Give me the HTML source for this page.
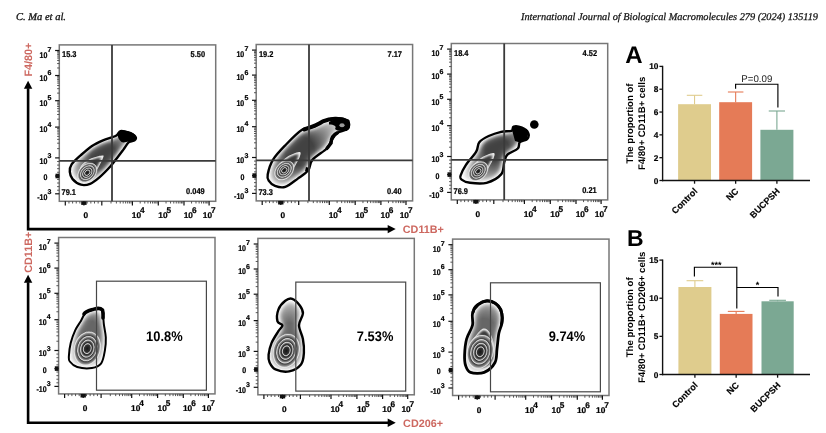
<!DOCTYPE html>
<html><head><meta charset="utf-8"><style>
html,body{margin:0;padding:0;background:#fff;}
body{width:826px;height:433px;overflow:hidden;font-family:"Liberation Sans",sans-serif;}
svg{display:block;will-change:transform;}
text{text-rendering:geometricPrecision;}
</style></head><body>
<svg width="826" height="433" viewBox="0 0 826 433">
<rect width="826" height="433" fill="#fff"/>
<text x="16.00" y="19.80" font-family='"Liberation Serif", serif' font-size="10.5" font-weight="normal" font-style="italic" text-anchor="start" fill="#111" textLength="50" lengthAdjust="spacingAndGlyphs" stroke="#111" stroke-width="0.3">C. Ma et al.</text>
<text x="521.00" y="20.10" font-family='"Liberation Serif", serif' font-size="10.3" font-weight="normal" font-style="italic" text-anchor="start" fill="#111" textLength="297" lengthAdjust="spacingAndGlyphs" stroke="#111" stroke-width="0.25">International Journal of Biological Macromolecules 279 (2024) 135119</text>
<defs><filter id="shA" x="-20%" y="-20%" width="140%" height="140%" color-interpolation-filters="sRGB"><feGaussianBlur in="SourceAlpha" stdDeviation="4.0" result="b"/><feColorMatrix in="b" type="matrix" values="0 0 0 -1 1  0 0 0 -1 1  0 0 0 -1 1  0 0 0 0 1" result="inv"/><feComponentTransfer in="inv" result="m"><feFuncR type="table" tableValues="0.26 0.36 0.55 0.75 0.9 0.98 1 1 1 1 1"/><feFuncG type="table" tableValues="0.26 0.36 0.55 0.75 0.9 0.98 1 1 1 1 1"/><feFuncB type="table" tableValues="0.26 0.36 0.55 0.75 0.9 0.98 1 1 1 1 1"/></feComponentTransfer><feComposite in="m" in2="SourceAlpha" operator="in"/></filter></defs>
<defs><filter id="shA2" x="-20%" y="-20%" width="140%" height="140%" color-interpolation-filters="sRGB"><feGaussianBlur in="SourceAlpha" stdDeviation="4.5" result="b"/><feColorMatrix in="b" type="matrix" values="0 0 0 -1 1  0 0 0 -1 1  0 0 0 -1 1  0 0 0 0 1" result="inv"/><feComponentTransfer in="inv" result="m"><feFuncR type="table" tableValues="0.4 0.48 0.62 0.78 0.9 0.98 1 1 1 1 1"/><feFuncG type="table" tableValues="0.4 0.48 0.62 0.78 0.9 0.98 1 1 1 1 1"/><feFuncB type="table" tableValues="0.4 0.48 0.62 0.78 0.9 0.98 1 1 1 1 1"/></feComponentTransfer><feComposite in="m" in2="SourceAlpha" operator="in"/></filter></defs>
<defs><filter id="shB" x="-20%" y="-20%" width="140%" height="140%" color-interpolation-filters="sRGB"><feGaussianBlur in="SourceAlpha" stdDeviation="2.2" result="b"/><feColorMatrix in="b" type="matrix" values="0 0 0 -1 1  0 0 0 -1 1  0 0 0 -1 1  0 0 0 0 1" result="inv"/><feComponentTransfer in="inv" result="m"><feFuncR type="table" tableValues="0.2 0.3 0.48 0.68 0.82 0.9 0.92 0.92 0.92 0.92 0.92"/><feFuncG type="table" tableValues="0.2 0.3 0.48 0.68 0.82 0.9 0.92 0.92 0.92 0.92 0.92"/><feFuncB type="table" tableValues="0.2 0.3 0.48 0.68 0.82 0.9 0.92 0.92 0.92 0.92 0.92"/></feComponentTransfer><feComposite in="m" in2="SourceAlpha" operator="in"/></filter></defs>
<defs><filter id="shC" x="-20%" y="-20%" width="140%" height="140%" color-interpolation-filters="sRGB"><feGaussianBlur in="SourceAlpha" stdDeviation="1.6" result="b"/><feColorMatrix in="b" type="matrix" values="0 0 0 -1 1  0 0 0 -1 1  0 0 0 -1 1  0 0 0 0 1" result="inv"/><feComponentTransfer in="inv" result="m"><feFuncR type="table" tableValues="0.2 0.35 0.58 0.8 0.93 1 1 1 1 1 1"/><feFuncG type="table" tableValues="0.2 0.35 0.58 0.8 0.93 1 1 1 1 1 1"/><feFuncB type="table" tableValues="0.2 0.35 0.58 0.8 0.93 1 1 1 1 1 1"/></feComponentTransfer><feComposite in="m" in2="SourceAlpha" operator="in"/></filter></defs>
<defs><radialGradient id="ringG"><stop offset="0" stop-color="#151515"/><stop offset="0.76" stop-color="#333"/><stop offset="0.93" stop-color="#999"/><stop offset="1" stop-color="#e8e8e8"/></radialGradient></defs>
<path d="M69.80,171.80 C69.63,169.35 69.75,167.18 71.60,164.40 C73.45,161.62 77.50,158.18 80.90,155.10 C84.30,152.02 88.32,148.37 92.00,145.90 C95.68,143.43 99.00,142.00 103.00,140.30 C107.00,138.60 113.07,137.23 116.00,135.70 C118.93,134.17 118.45,131.57 120.60,131.10 C122.75,130.63 126.43,131.98 128.90,132.90 C131.37,133.82 134.47,135.37 135.40,136.60 C136.33,137.83 135.58,139.37 134.50,140.30 C133.42,141.23 130.75,140.65 128.90,142.20 C127.05,143.75 125.25,147.13 123.40,149.60 C121.55,152.07 119.95,154.23 117.80,157.00 C115.65,159.77 113.57,162.82 110.50,166.20 C107.43,169.58 102.80,174.37 99.40,177.30 C96.00,180.23 93.18,182.57 90.10,183.80 C87.02,185.03 83.82,185.48 80.90,184.70 C77.98,183.92 74.45,181.25 72.60,179.10 C70.75,176.95 69.97,174.25 69.80,171.80 Z" fill="#000" filter="url(#shA)"/>
<defs><radialGradient id="fd1" gradientUnits="userSpaceOnUse" cx="104" cy="156" r="42"><stop offset="0" stop-color="#fff" stop-opacity="0"/><stop offset="0.3" stop-color="#fff" stop-opacity="0"/><stop offset="1" stop-color="#fff" stop-opacity="0.8"/></radialGradient></defs>
<path d="M69.80,171.80 C69.63,169.35 69.75,167.18 71.60,164.40 C73.45,161.62 77.50,158.18 80.90,155.10 C84.30,152.02 88.32,148.37 92.00,145.90 C95.68,143.43 99.00,142.00 103.00,140.30 C107.00,138.60 113.07,137.23 116.00,135.70 C118.93,134.17 118.45,131.57 120.60,131.10 C122.75,130.63 126.43,131.98 128.90,132.90 C131.37,133.82 134.47,135.37 135.40,136.60 C136.33,137.83 135.58,139.37 134.50,140.30 C133.42,141.23 130.75,140.65 128.90,142.20 C127.05,143.75 125.25,147.13 123.40,149.60 C121.55,152.07 119.95,154.23 117.80,157.00 C115.65,159.77 113.57,162.82 110.50,166.20 C107.43,169.58 102.80,174.37 99.40,177.30 C96.00,180.23 93.18,182.57 90.10,183.80 C87.02,185.03 83.82,185.48 80.90,184.70 C77.98,183.92 74.45,181.25 72.60,179.10 C70.75,176.95 69.97,174.25 69.80,171.80 Z" fill="url(#fd1)"/>
<path d="M79.00,176.00 C78.67,173.50 79.17,168.83 81.00,166.00 C82.83,163.17 86.50,160.75 90.00,159.00 C93.50,157.25 99.83,155.67 102.00,155.50 C104.17,155.33 103.83,155.58 103.00,158.00 C102.17,160.42 99.00,166.50 97.00,170.00 C95.00,173.50 93.33,177.17 91.00,179.00 C88.67,180.83 85.00,181.50 83.00,181.00 C81.00,180.50 79.33,178.50 79.00,176.00 Z" fill="#000" filter="url(#shB)"/>
<ellipse cx="87.3" cy="172.7" rx="11.00" ry="8.00" transform="rotate(-45 87.3 172.7)" fill="url(#ringG)" stroke="#f2f2f2" stroke-width="0.55"/>
<ellipse cx="87.3" cy="172.7" rx="8.14" ry="5.92" transform="rotate(-45 87.3 172.7)" fill="url(#ringG)" stroke="#f2f2f2" stroke-width="0.55"/>
<ellipse cx="87.3" cy="172.7" rx="5.50" ry="4.00" transform="rotate(-45 87.3 172.7)" fill="url(#ringG)" stroke="#f2f2f2" stroke-width="0.55"/>
<ellipse cx="87.3" cy="172.7" rx="3.08" ry="2.24" transform="rotate(-45 87.3 172.7)" fill="url(#ringG)" stroke="#f2f2f2" stroke-width="0.55"/>
<path d="M69.80,171.80 C69.63,169.35 69.75,167.18 71.60,164.40 C73.45,161.62 77.50,158.18 80.90,155.10 C84.30,152.02 88.32,148.37 92.00,145.90 C95.68,143.43 99.00,142.00 103.00,140.30 C107.00,138.60 113.07,137.23 116.00,135.70 C118.93,134.17 118.45,131.57 120.60,131.10 C122.75,130.63 126.43,131.98 128.90,132.90 C131.37,133.82 134.47,135.37 135.40,136.60 C136.33,137.83 135.58,139.37 134.50,140.30 C133.42,141.23 130.75,140.65 128.90,142.20 C127.05,143.75 125.25,147.13 123.40,149.60 C121.55,152.07 119.95,154.23 117.80,157.00 C115.65,159.77 113.57,162.82 110.50,166.20 C107.43,169.58 102.80,174.37 99.40,177.30 C96.00,180.23 93.18,182.57 90.10,183.80 C87.02,185.03 83.82,185.48 80.90,184.70 C77.98,183.92 74.45,181.25 72.60,179.10 C70.75,176.95 69.97,174.25 69.80,171.80 Z" fill="none" stroke="#000" stroke-width="2.4" stroke-linejoin="round"/>
<path d="M117.5,134 C119,131 122,130 126,130.8 C131,131.5 135,133.5 136,136.5 C136.5,139.5 133,141 129,141.5 C126,142 123.5,143 121.5,142 C119,140 117.5,137 117.5,134 Z" fill="#000"/>
<rect x="59.30" y="44.90" width="156.40" height="156.40" fill="none" stroke="#777" stroke-width="1.5"/>
<line x1="55.10" y1="50.50" x2="59.30" y2="50.50" stroke="#111" stroke-width="1.2"/>
<line x1="55.10" y1="75.50" x2="59.30" y2="75.50" stroke="#111" stroke-width="1.2"/>
<line x1="55.10" y1="100.70" x2="59.30" y2="100.70" stroke="#111" stroke-width="1.2"/>
<line x1="55.10" y1="127.10" x2="59.30" y2="127.10" stroke="#111" stroke-width="1.2"/>
<line x1="55.10" y1="157.90" x2="59.30" y2="157.90" stroke="#111" stroke-width="1.2"/>
<line x1="55.10" y1="176.00" x2="59.30" y2="176.00" stroke="#111" stroke-width="1.2"/>
<line x1="55.10" y1="193.80" x2="59.30" y2="193.80" stroke="#111" stroke-width="1.2"/>
<line x1="57.10" y1="67.97" x2="59.30" y2="67.97" stroke="#444" stroke-width="0.9"/>
<line x1="57.10" y1="63.57" x2="59.30" y2="63.57" stroke="#444" stroke-width="0.9"/>
<line x1="57.10" y1="60.45" x2="59.30" y2="60.45" stroke="#444" stroke-width="0.9"/>
<line x1="57.10" y1="58.03" x2="59.30" y2="58.03" stroke="#444" stroke-width="0.9"/>
<line x1="57.10" y1="56.05" x2="59.30" y2="56.05" stroke="#444" stroke-width="0.9"/>
<line x1="57.10" y1="54.37" x2="59.30" y2="54.37" stroke="#444" stroke-width="0.9"/>
<line x1="57.10" y1="52.92" x2="59.30" y2="52.92" stroke="#444" stroke-width="0.9"/>
<line x1="57.10" y1="51.64" x2="59.30" y2="51.64" stroke="#444" stroke-width="0.9"/>
<line x1="57.10" y1="93.11" x2="59.30" y2="93.11" stroke="#444" stroke-width="0.9"/>
<line x1="57.10" y1="88.68" x2="59.30" y2="88.68" stroke="#444" stroke-width="0.9"/>
<line x1="57.10" y1="85.53" x2="59.30" y2="85.53" stroke="#444" stroke-width="0.9"/>
<line x1="57.10" y1="83.09" x2="59.30" y2="83.09" stroke="#444" stroke-width="0.9"/>
<line x1="57.10" y1="81.09" x2="59.30" y2="81.09" stroke="#444" stroke-width="0.9"/>
<line x1="57.10" y1="79.40" x2="59.30" y2="79.40" stroke="#444" stroke-width="0.9"/>
<line x1="57.10" y1="77.94" x2="59.30" y2="77.94" stroke="#444" stroke-width="0.9"/>
<line x1="57.10" y1="76.65" x2="59.30" y2="76.65" stroke="#444" stroke-width="0.9"/>
<line x1="57.10" y1="119.15" x2="59.30" y2="119.15" stroke="#444" stroke-width="0.9"/>
<line x1="57.10" y1="114.50" x2="59.30" y2="114.50" stroke="#444" stroke-width="0.9"/>
<line x1="57.10" y1="111.21" x2="59.30" y2="111.21" stroke="#444" stroke-width="0.9"/>
<line x1="57.10" y1="108.65" x2="59.30" y2="108.65" stroke="#444" stroke-width="0.9"/>
<line x1="57.10" y1="106.56" x2="59.30" y2="106.56" stroke="#444" stroke-width="0.9"/>
<line x1="57.10" y1="104.79" x2="59.30" y2="104.79" stroke="#444" stroke-width="0.9"/>
<line x1="57.10" y1="103.26" x2="59.30" y2="103.26" stroke="#444" stroke-width="0.9"/>
<line x1="57.10" y1="101.91" x2="59.30" y2="101.91" stroke="#444" stroke-width="0.9"/>
<line x1="57.10" y1="148.63" x2="59.30" y2="148.63" stroke="#444" stroke-width="0.9"/>
<line x1="57.10" y1="143.20" x2="59.30" y2="143.20" stroke="#444" stroke-width="0.9"/>
<line x1="57.10" y1="139.36" x2="59.30" y2="139.36" stroke="#444" stroke-width="0.9"/>
<line x1="57.10" y1="136.37" x2="59.30" y2="136.37" stroke="#444" stroke-width="0.9"/>
<line x1="57.10" y1="133.93" x2="59.30" y2="133.93" stroke="#444" stroke-width="0.9"/>
<line x1="57.10" y1="131.87" x2="59.30" y2="131.87" stroke="#444" stroke-width="0.9"/>
<line x1="57.10" y1="130.08" x2="59.30" y2="130.08" stroke="#444" stroke-width="0.9"/>
<line x1="57.10" y1="128.51" x2="59.30" y2="128.51" stroke="#444" stroke-width="0.9"/>
<line x1="57.10" y1="190.21" x2="59.30" y2="190.21" stroke="#444" stroke-width="0.9"/>
<line x1="57.10" y1="186.62" x2="59.30" y2="186.62" stroke="#444" stroke-width="0.9"/>
<line x1="57.10" y1="183.03" x2="59.30" y2="183.03" stroke="#444" stroke-width="0.9"/>
<line x1="57.10" y1="179.44" x2="59.30" y2="179.44" stroke="#444" stroke-width="0.9"/>
<line x1="57.10" y1="175.85" x2="59.30" y2="175.85" stroke="#444" stroke-width="0.9"/>
<line x1="57.10" y1="172.26" x2="59.30" y2="172.26" stroke="#444" stroke-width="0.9"/>
<line x1="57.10" y1="168.67" x2="59.30" y2="168.67" stroke="#444" stroke-width="0.9"/>
<line x1="57.10" y1="165.08" x2="59.30" y2="165.08" stroke="#444" stroke-width="0.9"/>
<line x1="57.10" y1="161.49" x2="59.30" y2="161.49" stroke="#444" stroke-width="0.9"/>
<rect x="55.50" y="173.70" width="3.8" height="4.6" fill="#111"/>
<line x1="65.30" y1="201.30" x2="65.30" y2="205.50" stroke="#111" stroke-width="1.2"/>
<line x1="83.90" y1="201.30" x2="83.90" y2="205.50" stroke="#111" stroke-width="1.2"/>
<line x1="101.80" y1="201.30" x2="101.80" y2="205.50" stroke="#111" stroke-width="1.2"/>
<line x1="132.40" y1="201.30" x2="132.40" y2="205.50" stroke="#111" stroke-width="1.2"/>
<line x1="158.30" y1="201.30" x2="158.30" y2="205.50" stroke="#111" stroke-width="1.2"/>
<line x1="184.00" y1="201.30" x2="184.00" y2="205.50" stroke="#111" stroke-width="1.2"/>
<line x1="209.10" y1="201.30" x2="209.10" y2="205.50" stroke="#111" stroke-width="1.2"/>
<line x1="111.01" y1="201.30" x2="111.01" y2="203.50" stroke="#444" stroke-width="0.9"/>
<line x1="116.40" y1="201.30" x2="116.40" y2="203.50" stroke="#444" stroke-width="0.9"/>
<line x1="120.22" y1="201.30" x2="120.22" y2="203.50" stroke="#444" stroke-width="0.9"/>
<line x1="123.19" y1="201.30" x2="123.19" y2="203.50" stroke="#444" stroke-width="0.9"/>
<line x1="125.61" y1="201.30" x2="125.61" y2="203.50" stroke="#444" stroke-width="0.9"/>
<line x1="127.66" y1="201.30" x2="127.66" y2="203.50" stroke="#444" stroke-width="0.9"/>
<line x1="129.43" y1="201.30" x2="129.43" y2="203.50" stroke="#444" stroke-width="0.9"/>
<line x1="131.00" y1="201.30" x2="131.00" y2="203.50" stroke="#444" stroke-width="0.9"/>
<line x1="140.20" y1="201.30" x2="140.20" y2="203.50" stroke="#444" stroke-width="0.9"/>
<line x1="144.76" y1="201.30" x2="144.76" y2="203.50" stroke="#444" stroke-width="0.9"/>
<line x1="147.99" y1="201.30" x2="147.99" y2="203.50" stroke="#444" stroke-width="0.9"/>
<line x1="150.50" y1="201.30" x2="150.50" y2="203.50" stroke="#444" stroke-width="0.9"/>
<line x1="152.55" y1="201.30" x2="152.55" y2="203.50" stroke="#444" stroke-width="0.9"/>
<line x1="154.29" y1="201.30" x2="154.29" y2="203.50" stroke="#444" stroke-width="0.9"/>
<line x1="155.79" y1="201.30" x2="155.79" y2="203.50" stroke="#444" stroke-width="0.9"/>
<line x1="157.11" y1="201.30" x2="157.11" y2="203.50" stroke="#444" stroke-width="0.9"/>
<line x1="166.04" y1="201.30" x2="166.04" y2="203.50" stroke="#444" stroke-width="0.9"/>
<line x1="170.56" y1="201.30" x2="170.56" y2="203.50" stroke="#444" stroke-width="0.9"/>
<line x1="173.77" y1="201.30" x2="173.77" y2="203.50" stroke="#444" stroke-width="0.9"/>
<line x1="176.26" y1="201.30" x2="176.26" y2="203.50" stroke="#444" stroke-width="0.9"/>
<line x1="178.30" y1="201.30" x2="178.30" y2="203.50" stroke="#444" stroke-width="0.9"/>
<line x1="180.02" y1="201.30" x2="180.02" y2="203.50" stroke="#444" stroke-width="0.9"/>
<line x1="181.51" y1="201.30" x2="181.51" y2="203.50" stroke="#444" stroke-width="0.9"/>
<line x1="182.82" y1="201.30" x2="182.82" y2="203.50" stroke="#444" stroke-width="0.9"/>
<line x1="191.56" y1="201.30" x2="191.56" y2="203.50" stroke="#444" stroke-width="0.9"/>
<line x1="195.98" y1="201.30" x2="195.98" y2="203.50" stroke="#444" stroke-width="0.9"/>
<line x1="199.11" y1="201.30" x2="199.11" y2="203.50" stroke="#444" stroke-width="0.9"/>
<line x1="201.54" y1="201.30" x2="201.54" y2="203.50" stroke="#444" stroke-width="0.9"/>
<line x1="203.53" y1="201.30" x2="203.53" y2="203.50" stroke="#444" stroke-width="0.9"/>
<line x1="205.21" y1="201.30" x2="205.21" y2="203.50" stroke="#444" stroke-width="0.9"/>
<line x1="206.67" y1="201.30" x2="206.67" y2="203.50" stroke="#444" stroke-width="0.9"/>
<line x1="207.95" y1="201.30" x2="207.95" y2="203.50" stroke="#444" stroke-width="0.9"/>
<line x1="68.95" y1="201.30" x2="68.95" y2="203.50" stroke="#444" stroke-width="0.9"/>
<line x1="72.60" y1="201.30" x2="72.60" y2="203.50" stroke="#444" stroke-width="0.9"/>
<line x1="76.25" y1="201.30" x2="76.25" y2="203.50" stroke="#444" stroke-width="0.9"/>
<line x1="79.90" y1="201.30" x2="79.90" y2="203.50" stroke="#444" stroke-width="0.9"/>
<line x1="83.55" y1="201.30" x2="83.55" y2="203.50" stroke="#444" stroke-width="0.9"/>
<line x1="87.20" y1="201.30" x2="87.20" y2="203.50" stroke="#444" stroke-width="0.9"/>
<line x1="90.85" y1="201.30" x2="90.85" y2="203.50" stroke="#444" stroke-width="0.9"/>
<line x1="94.50" y1="201.30" x2="94.50" y2="203.50" stroke="#444" stroke-width="0.9"/>
<line x1="98.15" y1="201.30" x2="98.15" y2="203.50" stroke="#444" stroke-width="0.9"/>
<rect x="81.20" y="201.30" width="5.4" height="3.6" fill="#111"/>
<text transform="translate(47.40,57.50) scale(0.85,1)" font-family='"Liberation Sans", sans-serif' font-size="8.3" font-weight="bold" text-anchor="end" stroke="#000" stroke-width="0.22">10</text>
<text x="47.50" y="51.60" font-family='"Liberation Sans", sans-serif' font-size="7.0" font-weight="bold" font-style="normal" text-anchor="start" fill="#000" stroke="#000" stroke-width="0.2">7</text>
<text transform="translate(47.40,80.70) scale(0.85,1)" font-family='"Liberation Sans", sans-serif' font-size="8.3" font-weight="bold" text-anchor="end" stroke="#000" stroke-width="0.22">10</text>
<text x="47.50" y="75.20" font-family='"Liberation Sans", sans-serif' font-size="7.0" font-weight="bold" font-style="normal" text-anchor="start" fill="#000" stroke="#000" stroke-width="0.2">6</text>
<text transform="translate(47.40,105.90) scale(0.85,1)" font-family='"Liberation Sans", sans-serif' font-size="8.3" font-weight="bold" text-anchor="end" stroke="#000" stroke-width="0.22">10</text>
<text x="47.50" y="100.40" font-family='"Liberation Sans", sans-serif' font-size="7.0" font-weight="bold" font-style="normal" text-anchor="start" fill="#000" stroke="#000" stroke-width="0.2">5</text>
<text transform="translate(47.40,132.30) scale(0.85,1)" font-family='"Liberation Sans", sans-serif' font-size="8.3" font-weight="bold" text-anchor="end" stroke="#000" stroke-width="0.22">10</text>
<text x="47.50" y="126.80" font-family='"Liberation Sans", sans-serif' font-size="7.0" font-weight="bold" font-style="normal" text-anchor="start" fill="#000" stroke="#000" stroke-width="0.2">4</text>
<text transform="translate(47.40,163.50) scale(0.85,1)" font-family='"Liberation Sans", sans-serif' font-size="8.3" font-weight="bold" text-anchor="end" stroke="#000" stroke-width="0.22">10</text>
<text x="47.50" y="157.90" font-family='"Liberation Sans", sans-serif' font-size="7.0" font-weight="bold" font-style="normal" text-anchor="start" fill="#000" stroke="#000" stroke-width="0.2">3</text>
<text transform="translate(47.40,199.70) scale(0.85,1)" font-family='"Liberation Sans", sans-serif' font-size="8.3" font-weight="bold" text-anchor="end" stroke="#000" stroke-width="0.22">-10</text>
<text x="47.50" y="193.80" font-family='"Liberation Sans", sans-serif' font-size="7.0" font-weight="bold" font-style="normal" text-anchor="start" fill="#000" stroke="#000" stroke-width="0.2">3</text>
<text transform="translate(47.50,179.90) scale(0.85,1)" font-family='"Liberation Sans", sans-serif' font-size="8.3" font-weight="bold" text-anchor="end" stroke="#000" stroke-width="0.22">0</text>
<text x="85.80" y="218.30" font-family='"Liberation Sans", sans-serif' font-size="8.3" font-weight="bold" font-style="normal" text-anchor="middle" fill="#000" stroke="#000" stroke-width="0.22">0</text>
<text x="131.80" y="218.30" font-family='"Liberation Sans", sans-serif' font-size="8.3" font-weight="bold" font-style="normal" text-anchor="start" fill="#000" stroke="#000" stroke-width="0.22">10</text>
<text x="140.00" y="213.30" font-family='"Liberation Sans", sans-serif' font-size="8.3" font-weight="bold" font-style="normal" text-anchor="start" fill="#000" stroke="#000" stroke-width="0.2">4</text>
<text x="158.30" y="218.30" font-family='"Liberation Sans", sans-serif' font-size="8.3" font-weight="bold" font-style="normal" text-anchor="start" fill="#000" stroke="#000" stroke-width="0.22">10</text>
<text x="166.50" y="213.30" font-family='"Liberation Sans", sans-serif' font-size="8.3" font-weight="bold" font-style="normal" text-anchor="start" fill="#000" stroke="#000" stroke-width="0.2">5</text>
<text x="183.70" y="218.30" font-family='"Liberation Sans", sans-serif' font-size="8.3" font-weight="bold" font-style="normal" text-anchor="start" fill="#000" stroke="#000" stroke-width="0.22">10</text>
<text x="191.90" y="213.30" font-family='"Liberation Sans", sans-serif' font-size="8.3" font-weight="bold" font-style="normal" text-anchor="start" fill="#000" stroke="#000" stroke-width="0.2">6</text>
<text x="202.80" y="218.30" font-family='"Liberation Sans", sans-serif' font-size="8.3" font-weight="bold" font-style="normal" text-anchor="start" fill="#000" stroke="#000" stroke-width="0.22">10</text>
<text x="211.00" y="213.30" font-family='"Liberation Sans", sans-serif' font-size="8.3" font-weight="bold" font-style="normal" text-anchor="start" fill="#000" stroke="#000" stroke-width="0.2">7</text>
<line x1="112.00" y1="44.90" x2="112.00" y2="201.30" stroke="#3a3a3a" stroke-width="1.8"/>
<line x1="59.30" y1="160.95" x2="215.70" y2="160.95" stroke="#3a3a3a" stroke-width="1.8"/>
<text transform="translate(62.00,57.10) scale(0.89,1)" font-family='"Liberation Sans", sans-serif' font-size="8.4" font-weight="bold" text-anchor="start" stroke="#000" stroke-width="0.22">15.3</text>
<text transform="translate(205.10,57.10) scale(0.89,1)" font-family='"Liberation Sans", sans-serif' font-size="8.4" font-weight="bold" text-anchor="end" stroke="#000" stroke-width="0.22">5.50</text>
<text transform="translate(61.50,195.10) scale(0.89,1)" font-family='"Liberation Sans", sans-serif' font-size="8.4" font-weight="bold" text-anchor="start" stroke="#000" stroke-width="0.22">79.1</text>
<text transform="translate(204.70,194.30) scale(0.89,1)" font-family='"Liberation Sans", sans-serif' font-size="8.4" font-weight="bold" text-anchor="end" stroke="#000" stroke-width="0.22">0.049</text>
<path d="M267.70,174.40 C268.40,170.93 269.97,164.75 272.90,159.90 C275.83,155.05 280.45,150.32 285.30,145.30 C290.15,140.28 297.15,132.92 302.00,129.80 C306.85,126.68 310.93,128.00 314.40,126.60 C317.87,125.20 318.98,122.78 322.80,121.40 C326.62,120.02 333.15,118.30 337.30,118.30 C341.45,118.30 345.97,119.67 347.70,121.40 C349.43,123.13 349.43,126.78 347.70,128.70 C345.97,130.62 340.07,130.82 337.30,132.90 C334.53,134.98 332.83,138.60 331.10,141.20 C329.37,143.80 330.02,145.38 326.90,148.50 C323.78,151.62 315.52,156.27 312.40,159.90 C309.28,163.53 310.63,167.18 308.20,170.30 C305.77,173.42 301.62,175.83 297.80,178.60 C293.98,181.37 289.10,185.68 285.30,186.90 C281.50,188.12 277.77,186.93 275.00,185.90 C272.23,184.87 269.92,182.62 268.70,180.70 C267.48,178.78 267.00,177.87 267.70,174.40 Z" fill="#000" filter="url(#shA)"/>
<defs><radialGradient id="fd2" gradientUnits="userSpaceOnUse" cx="300" cy="151" r="48"><stop offset="0" stop-color="#fff" stop-opacity="0"/><stop offset="0.3" stop-color="#fff" stop-opacity="0"/><stop offset="1" stop-color="#fff" stop-opacity="0.8"/></radialGradient></defs>
<path d="M267.70,174.40 C268.40,170.93 269.97,164.75 272.90,159.90 C275.83,155.05 280.45,150.32 285.30,145.30 C290.15,140.28 297.15,132.92 302.00,129.80 C306.85,126.68 310.93,128.00 314.40,126.60 C317.87,125.20 318.98,122.78 322.80,121.40 C326.62,120.02 333.15,118.30 337.30,118.30 C341.45,118.30 345.97,119.67 347.70,121.40 C349.43,123.13 349.43,126.78 347.70,128.70 C345.97,130.62 340.07,130.82 337.30,132.90 C334.53,134.98 332.83,138.60 331.10,141.20 C329.37,143.80 330.02,145.38 326.90,148.50 C323.78,151.62 315.52,156.27 312.40,159.90 C309.28,163.53 310.63,167.18 308.20,170.30 C305.77,173.42 301.62,175.83 297.80,178.60 C293.98,181.37 289.10,185.68 285.30,186.90 C281.50,188.12 277.77,186.93 275.00,185.90 C272.23,184.87 269.92,182.62 268.70,180.70 C267.48,178.78 267.00,177.87 267.70,174.40 Z" fill="url(#fd2)"/>
<path d="M276.00,176.00 C275.67,173.67 276.17,169.17 278.00,166.00 C279.83,162.83 283.50,159.33 287.00,157.00 C290.50,154.67 296.83,152.17 299.00,152.00 C301.17,151.83 300.83,153.33 300.00,156.00 C299.17,158.67 296.00,164.50 294.00,168.00 C292.00,171.50 290.33,175.00 288.00,177.00 C285.67,179.00 282.00,180.17 280.00,180.00 C278.00,179.83 276.33,178.33 276.00,176.00 Z" fill="#000" filter="url(#shB)"/>
<ellipse cx="284.3" cy="170.3" rx="11.00" ry="8.00" transform="rotate(-45 284.3 170.3)" fill="url(#ringG)" stroke="#f2f2f2" stroke-width="0.55"/>
<ellipse cx="284.3" cy="170.3" rx="8.14" ry="5.92" transform="rotate(-45 284.3 170.3)" fill="url(#ringG)" stroke="#f2f2f2" stroke-width="0.55"/>
<ellipse cx="284.3" cy="170.3" rx="5.50" ry="4.00" transform="rotate(-45 284.3 170.3)" fill="url(#ringG)" stroke="#f2f2f2" stroke-width="0.55"/>
<ellipse cx="284.3" cy="170.3" rx="3.08" ry="2.24" transform="rotate(-45 284.3 170.3)" fill="url(#ringG)" stroke="#f2f2f2" stroke-width="0.55"/>
<path d="M267.70,174.40 C268.40,170.93 269.97,164.75 272.90,159.90 C275.83,155.05 280.45,150.32 285.30,145.30 C290.15,140.28 297.15,132.92 302.00,129.80 C306.85,126.68 310.93,128.00 314.40,126.60 C317.87,125.20 318.98,122.78 322.80,121.40 C326.62,120.02 333.15,118.30 337.30,118.30 C341.45,118.30 345.97,119.67 347.70,121.40 C349.43,123.13 349.43,126.78 347.70,128.70 C345.97,130.62 340.07,130.82 337.30,132.90 C334.53,134.98 332.83,138.60 331.10,141.20 C329.37,143.80 330.02,145.38 326.90,148.50 C323.78,151.62 315.52,156.27 312.40,159.90 C309.28,163.53 310.63,167.18 308.20,170.30 C305.77,173.42 301.62,175.83 297.80,178.60 C293.98,181.37 289.10,185.68 285.30,186.90 C281.50,188.12 277.77,186.93 275.00,185.90 C272.23,184.87 269.92,182.62 268.70,180.70 C267.48,178.78 267.00,177.87 267.70,174.40 Z" fill="none" stroke="#000" stroke-width="2.4" stroke-linejoin="round"/>
<path d="M304,129.5 C312,127 318,125 322.8,121.4 C330,118.5 340,117.5 347.7,121.4 C349,125 348,128 346,129" fill="none" stroke="#000" stroke-width="4" stroke-linecap="round"/><path d="M337.3,132.9 C333,135 331,139 331.1,143 C329,146 327,148 326.9,148.5" fill="none" stroke="#000" stroke-width="3.4" stroke-linecap="round"/><path d="M306,167 L310,168 L309,172 L305,171 Z" fill="#000"/><path d="M329,122 C334,119 342,117.5 347.5,121 C349,124 348.5,128 345,130 C341,131.5 337,131 335,129 C337,126 334,124.5 329,124.5 Z" fill="#000"/><ellipse cx="342" cy="125.3" rx="2.6" ry="2" fill="#9a9a9a"/>
<rect x="256.20" y="44.50" width="156.40" height="156.40" fill="none" stroke="#777" stroke-width="1.5"/>
<line x1="252.00" y1="50.10" x2="256.20" y2="50.10" stroke="#111" stroke-width="1.2"/>
<line x1="252.00" y1="75.10" x2="256.20" y2="75.10" stroke="#111" stroke-width="1.2"/>
<line x1="252.00" y1="100.30" x2="256.20" y2="100.30" stroke="#111" stroke-width="1.2"/>
<line x1="252.00" y1="126.70" x2="256.20" y2="126.70" stroke="#111" stroke-width="1.2"/>
<line x1="252.00" y1="157.50" x2="256.20" y2="157.50" stroke="#111" stroke-width="1.2"/>
<line x1="252.00" y1="175.60" x2="256.20" y2="175.60" stroke="#111" stroke-width="1.2"/>
<line x1="252.00" y1="193.40" x2="256.20" y2="193.40" stroke="#111" stroke-width="1.2"/>
<line x1="254.00" y1="67.57" x2="256.20" y2="67.57" stroke="#444" stroke-width="0.9"/>
<line x1="254.00" y1="63.17" x2="256.20" y2="63.17" stroke="#444" stroke-width="0.9"/>
<line x1="254.00" y1="60.05" x2="256.20" y2="60.05" stroke="#444" stroke-width="0.9"/>
<line x1="254.00" y1="57.63" x2="256.20" y2="57.63" stroke="#444" stroke-width="0.9"/>
<line x1="254.00" y1="55.65" x2="256.20" y2="55.65" stroke="#444" stroke-width="0.9"/>
<line x1="254.00" y1="53.97" x2="256.20" y2="53.97" stroke="#444" stroke-width="0.9"/>
<line x1="254.00" y1="52.52" x2="256.20" y2="52.52" stroke="#444" stroke-width="0.9"/>
<line x1="254.00" y1="51.24" x2="256.20" y2="51.24" stroke="#444" stroke-width="0.9"/>
<line x1="254.00" y1="92.71" x2="256.20" y2="92.71" stroke="#444" stroke-width="0.9"/>
<line x1="254.00" y1="88.28" x2="256.20" y2="88.28" stroke="#444" stroke-width="0.9"/>
<line x1="254.00" y1="85.13" x2="256.20" y2="85.13" stroke="#444" stroke-width="0.9"/>
<line x1="254.00" y1="82.69" x2="256.20" y2="82.69" stroke="#444" stroke-width="0.9"/>
<line x1="254.00" y1="80.69" x2="256.20" y2="80.69" stroke="#444" stroke-width="0.9"/>
<line x1="254.00" y1="79.00" x2="256.20" y2="79.00" stroke="#444" stroke-width="0.9"/>
<line x1="254.00" y1="77.54" x2="256.20" y2="77.54" stroke="#444" stroke-width="0.9"/>
<line x1="254.00" y1="76.25" x2="256.20" y2="76.25" stroke="#444" stroke-width="0.9"/>
<line x1="254.00" y1="118.75" x2="256.20" y2="118.75" stroke="#444" stroke-width="0.9"/>
<line x1="254.00" y1="114.10" x2="256.20" y2="114.10" stroke="#444" stroke-width="0.9"/>
<line x1="254.00" y1="110.81" x2="256.20" y2="110.81" stroke="#444" stroke-width="0.9"/>
<line x1="254.00" y1="108.25" x2="256.20" y2="108.25" stroke="#444" stroke-width="0.9"/>
<line x1="254.00" y1="106.16" x2="256.20" y2="106.16" stroke="#444" stroke-width="0.9"/>
<line x1="254.00" y1="104.39" x2="256.20" y2="104.39" stroke="#444" stroke-width="0.9"/>
<line x1="254.00" y1="102.86" x2="256.20" y2="102.86" stroke="#444" stroke-width="0.9"/>
<line x1="254.00" y1="101.51" x2="256.20" y2="101.51" stroke="#444" stroke-width="0.9"/>
<line x1="254.00" y1="148.23" x2="256.20" y2="148.23" stroke="#444" stroke-width="0.9"/>
<line x1="254.00" y1="142.80" x2="256.20" y2="142.80" stroke="#444" stroke-width="0.9"/>
<line x1="254.00" y1="138.96" x2="256.20" y2="138.96" stroke="#444" stroke-width="0.9"/>
<line x1="254.00" y1="135.97" x2="256.20" y2="135.97" stroke="#444" stroke-width="0.9"/>
<line x1="254.00" y1="133.53" x2="256.20" y2="133.53" stroke="#444" stroke-width="0.9"/>
<line x1="254.00" y1="131.47" x2="256.20" y2="131.47" stroke="#444" stroke-width="0.9"/>
<line x1="254.00" y1="129.68" x2="256.20" y2="129.68" stroke="#444" stroke-width="0.9"/>
<line x1="254.00" y1="128.11" x2="256.20" y2="128.11" stroke="#444" stroke-width="0.9"/>
<line x1="254.00" y1="189.81" x2="256.20" y2="189.81" stroke="#444" stroke-width="0.9"/>
<line x1="254.00" y1="186.22" x2="256.20" y2="186.22" stroke="#444" stroke-width="0.9"/>
<line x1="254.00" y1="182.63" x2="256.20" y2="182.63" stroke="#444" stroke-width="0.9"/>
<line x1="254.00" y1="179.04" x2="256.20" y2="179.04" stroke="#444" stroke-width="0.9"/>
<line x1="254.00" y1="175.45" x2="256.20" y2="175.45" stroke="#444" stroke-width="0.9"/>
<line x1="254.00" y1="171.86" x2="256.20" y2="171.86" stroke="#444" stroke-width="0.9"/>
<line x1="254.00" y1="168.27" x2="256.20" y2="168.27" stroke="#444" stroke-width="0.9"/>
<line x1="254.00" y1="164.68" x2="256.20" y2="164.68" stroke="#444" stroke-width="0.9"/>
<line x1="254.00" y1="161.09" x2="256.20" y2="161.09" stroke="#444" stroke-width="0.9"/>
<rect x="252.40" y="173.30" width="3.8" height="4.6" fill="#111"/>
<line x1="262.20" y1="200.90" x2="262.20" y2="205.10" stroke="#111" stroke-width="1.2"/>
<line x1="280.80" y1="200.90" x2="280.80" y2="205.10" stroke="#111" stroke-width="1.2"/>
<line x1="298.70" y1="200.90" x2="298.70" y2="205.10" stroke="#111" stroke-width="1.2"/>
<line x1="329.30" y1="200.90" x2="329.30" y2="205.10" stroke="#111" stroke-width="1.2"/>
<line x1="355.20" y1="200.90" x2="355.20" y2="205.10" stroke="#111" stroke-width="1.2"/>
<line x1="380.90" y1="200.90" x2="380.90" y2="205.10" stroke="#111" stroke-width="1.2"/>
<line x1="406.00" y1="200.90" x2="406.00" y2="205.10" stroke="#111" stroke-width="1.2"/>
<line x1="307.91" y1="200.90" x2="307.91" y2="203.10" stroke="#444" stroke-width="0.9"/>
<line x1="313.30" y1="200.90" x2="313.30" y2="203.10" stroke="#444" stroke-width="0.9"/>
<line x1="317.12" y1="200.90" x2="317.12" y2="203.10" stroke="#444" stroke-width="0.9"/>
<line x1="320.09" y1="200.90" x2="320.09" y2="203.10" stroke="#444" stroke-width="0.9"/>
<line x1="322.51" y1="200.90" x2="322.51" y2="203.10" stroke="#444" stroke-width="0.9"/>
<line x1="324.56" y1="200.90" x2="324.56" y2="203.10" stroke="#444" stroke-width="0.9"/>
<line x1="326.33" y1="200.90" x2="326.33" y2="203.10" stroke="#444" stroke-width="0.9"/>
<line x1="327.90" y1="200.90" x2="327.90" y2="203.10" stroke="#444" stroke-width="0.9"/>
<line x1="337.10" y1="200.90" x2="337.10" y2="203.10" stroke="#444" stroke-width="0.9"/>
<line x1="341.66" y1="200.90" x2="341.66" y2="203.10" stroke="#444" stroke-width="0.9"/>
<line x1="344.89" y1="200.90" x2="344.89" y2="203.10" stroke="#444" stroke-width="0.9"/>
<line x1="347.40" y1="200.90" x2="347.40" y2="203.10" stroke="#444" stroke-width="0.9"/>
<line x1="349.45" y1="200.90" x2="349.45" y2="203.10" stroke="#444" stroke-width="0.9"/>
<line x1="351.19" y1="200.90" x2="351.19" y2="203.10" stroke="#444" stroke-width="0.9"/>
<line x1="352.69" y1="200.90" x2="352.69" y2="203.10" stroke="#444" stroke-width="0.9"/>
<line x1="354.01" y1="200.90" x2="354.01" y2="203.10" stroke="#444" stroke-width="0.9"/>
<line x1="362.94" y1="200.90" x2="362.94" y2="203.10" stroke="#444" stroke-width="0.9"/>
<line x1="367.46" y1="200.90" x2="367.46" y2="203.10" stroke="#444" stroke-width="0.9"/>
<line x1="370.67" y1="200.90" x2="370.67" y2="203.10" stroke="#444" stroke-width="0.9"/>
<line x1="373.16" y1="200.90" x2="373.16" y2="203.10" stroke="#444" stroke-width="0.9"/>
<line x1="375.20" y1="200.90" x2="375.20" y2="203.10" stroke="#444" stroke-width="0.9"/>
<line x1="376.92" y1="200.90" x2="376.92" y2="203.10" stroke="#444" stroke-width="0.9"/>
<line x1="378.41" y1="200.90" x2="378.41" y2="203.10" stroke="#444" stroke-width="0.9"/>
<line x1="379.72" y1="200.90" x2="379.72" y2="203.10" stroke="#444" stroke-width="0.9"/>
<line x1="388.46" y1="200.90" x2="388.46" y2="203.10" stroke="#444" stroke-width="0.9"/>
<line x1="392.88" y1="200.90" x2="392.88" y2="203.10" stroke="#444" stroke-width="0.9"/>
<line x1="396.01" y1="200.90" x2="396.01" y2="203.10" stroke="#444" stroke-width="0.9"/>
<line x1="398.44" y1="200.90" x2="398.44" y2="203.10" stroke="#444" stroke-width="0.9"/>
<line x1="400.43" y1="200.90" x2="400.43" y2="203.10" stroke="#444" stroke-width="0.9"/>
<line x1="402.11" y1="200.90" x2="402.11" y2="203.10" stroke="#444" stroke-width="0.9"/>
<line x1="403.57" y1="200.90" x2="403.57" y2="203.10" stroke="#444" stroke-width="0.9"/>
<line x1="404.85" y1="200.90" x2="404.85" y2="203.10" stroke="#444" stroke-width="0.9"/>
<line x1="265.85" y1="200.90" x2="265.85" y2="203.10" stroke="#444" stroke-width="0.9"/>
<line x1="269.50" y1="200.90" x2="269.50" y2="203.10" stroke="#444" stroke-width="0.9"/>
<line x1="273.15" y1="200.90" x2="273.15" y2="203.10" stroke="#444" stroke-width="0.9"/>
<line x1="276.80" y1="200.90" x2="276.80" y2="203.10" stroke="#444" stroke-width="0.9"/>
<line x1="280.45" y1="200.90" x2="280.45" y2="203.10" stroke="#444" stroke-width="0.9"/>
<line x1="284.10" y1="200.90" x2="284.10" y2="203.10" stroke="#444" stroke-width="0.9"/>
<line x1="287.75" y1="200.90" x2="287.75" y2="203.10" stroke="#444" stroke-width="0.9"/>
<line x1="291.40" y1="200.90" x2="291.40" y2="203.10" stroke="#444" stroke-width="0.9"/>
<line x1="295.05" y1="200.90" x2="295.05" y2="203.10" stroke="#444" stroke-width="0.9"/>
<rect x="278.10" y="200.90" width="5.4" height="3.6" fill="#111"/>
<text transform="translate(244.30,57.10) scale(0.85,1)" font-family='"Liberation Sans", sans-serif' font-size="8.3" font-weight="bold" text-anchor="end" stroke="#000" stroke-width="0.22">10</text>
<text x="244.40" y="51.20" font-family='"Liberation Sans", sans-serif' font-size="7.0" font-weight="bold" font-style="normal" text-anchor="start" fill="#000" stroke="#000" stroke-width="0.2">7</text>
<text transform="translate(244.30,80.30) scale(0.85,1)" font-family='"Liberation Sans", sans-serif' font-size="8.3" font-weight="bold" text-anchor="end" stroke="#000" stroke-width="0.22">10</text>
<text x="244.40" y="74.80" font-family='"Liberation Sans", sans-serif' font-size="7.0" font-weight="bold" font-style="normal" text-anchor="start" fill="#000" stroke="#000" stroke-width="0.2">6</text>
<text transform="translate(244.30,105.50) scale(0.85,1)" font-family='"Liberation Sans", sans-serif' font-size="8.3" font-weight="bold" text-anchor="end" stroke="#000" stroke-width="0.22">10</text>
<text x="244.40" y="100.00" font-family='"Liberation Sans", sans-serif' font-size="7.0" font-weight="bold" font-style="normal" text-anchor="start" fill="#000" stroke="#000" stroke-width="0.2">5</text>
<text transform="translate(244.30,131.90) scale(0.85,1)" font-family='"Liberation Sans", sans-serif' font-size="8.3" font-weight="bold" text-anchor="end" stroke="#000" stroke-width="0.22">10</text>
<text x="244.40" y="126.40" font-family='"Liberation Sans", sans-serif' font-size="7.0" font-weight="bold" font-style="normal" text-anchor="start" fill="#000" stroke="#000" stroke-width="0.2">4</text>
<text transform="translate(244.30,163.10) scale(0.85,1)" font-family='"Liberation Sans", sans-serif' font-size="8.3" font-weight="bold" text-anchor="end" stroke="#000" stroke-width="0.22">10</text>
<text x="244.40" y="157.50" font-family='"Liberation Sans", sans-serif' font-size="7.0" font-weight="bold" font-style="normal" text-anchor="start" fill="#000" stroke="#000" stroke-width="0.2">3</text>
<text transform="translate(244.30,199.30) scale(0.85,1)" font-family='"Liberation Sans", sans-serif' font-size="8.3" font-weight="bold" text-anchor="end" stroke="#000" stroke-width="0.22">-10</text>
<text x="244.40" y="193.40" font-family='"Liberation Sans", sans-serif' font-size="7.0" font-weight="bold" font-style="normal" text-anchor="start" fill="#000" stroke="#000" stroke-width="0.2">3</text>
<text transform="translate(244.40,179.50) scale(0.85,1)" font-family='"Liberation Sans", sans-serif' font-size="8.3" font-weight="bold" text-anchor="end" stroke="#000" stroke-width="0.22">0</text>
<text x="282.70" y="217.90" font-family='"Liberation Sans", sans-serif' font-size="8.3" font-weight="bold" font-style="normal" text-anchor="middle" fill="#000" stroke="#000" stroke-width="0.22">0</text>
<text x="328.70" y="217.90" font-family='"Liberation Sans", sans-serif' font-size="8.3" font-weight="bold" font-style="normal" text-anchor="start" fill="#000" stroke="#000" stroke-width="0.22">10</text>
<text x="336.90" y="212.90" font-family='"Liberation Sans", sans-serif' font-size="8.3" font-weight="bold" font-style="normal" text-anchor="start" fill="#000" stroke="#000" stroke-width="0.2">4</text>
<text x="355.20" y="217.90" font-family='"Liberation Sans", sans-serif' font-size="8.3" font-weight="bold" font-style="normal" text-anchor="start" fill="#000" stroke="#000" stroke-width="0.22">10</text>
<text x="363.40" y="212.90" font-family='"Liberation Sans", sans-serif' font-size="8.3" font-weight="bold" font-style="normal" text-anchor="start" fill="#000" stroke="#000" stroke-width="0.2">5</text>
<text x="380.60" y="217.90" font-family='"Liberation Sans", sans-serif' font-size="8.3" font-weight="bold" font-style="normal" text-anchor="start" fill="#000" stroke="#000" stroke-width="0.22">10</text>
<text x="388.80" y="212.90" font-family='"Liberation Sans", sans-serif' font-size="8.3" font-weight="bold" font-style="normal" text-anchor="start" fill="#000" stroke="#000" stroke-width="0.2">6</text>
<text x="399.70" y="217.90" font-family='"Liberation Sans", sans-serif' font-size="8.3" font-weight="bold" font-style="normal" text-anchor="start" fill="#000" stroke="#000" stroke-width="0.22">10</text>
<text x="407.90" y="212.90" font-family='"Liberation Sans", sans-serif' font-size="8.3" font-weight="bold" font-style="normal" text-anchor="start" fill="#000" stroke="#000" stroke-width="0.2">7</text>
<line x1="309.00" y1="44.50" x2="309.00" y2="200.90" stroke="#3a3a3a" stroke-width="1.8"/>
<line x1="256.20" y1="160.40" x2="412.60" y2="160.40" stroke="#3a3a3a" stroke-width="1.8"/>
<text transform="translate(258.90,56.70) scale(0.89,1)" font-family='"Liberation Sans", sans-serif' font-size="8.4" font-weight="bold" text-anchor="start" stroke="#000" stroke-width="0.22">19.2</text>
<text transform="translate(402.00,56.70) scale(0.89,1)" font-family='"Liberation Sans", sans-serif' font-size="8.4" font-weight="bold" text-anchor="end" stroke="#000" stroke-width="0.22">7.17</text>
<text transform="translate(258.40,194.70) scale(0.89,1)" font-family='"Liberation Sans", sans-serif' font-size="8.4" font-weight="bold" text-anchor="start" stroke="#000" stroke-width="0.22">73.3</text>
<text transform="translate(401.60,193.90) scale(0.89,1)" font-family='"Liberation Sans", sans-serif' font-size="8.4" font-weight="bold" text-anchor="end" stroke="#000" stroke-width="0.22">0.40</text>
<path d="M460.60,175.50 C461.30,173.08 463.20,169.08 465.80,165.10 C468.40,161.12 473.95,155.42 476.20,151.60 C478.45,147.78 477.22,144.80 479.30,142.20 C481.38,139.60 485.07,137.73 488.70,136.00 C492.33,134.27 497.30,132.67 501.10,131.80 C504.90,130.93 509.42,131.67 511.50,130.80 C513.58,129.93 511.87,127.12 513.60,126.60 C515.33,126.08 519.47,126.65 521.90,127.70 C524.33,128.75 527.33,131.00 528.20,132.90 C529.07,134.80 528.50,137.55 527.10,139.10 C525.70,140.65 521.35,140.63 519.80,142.20 C518.25,143.77 519.87,146.42 517.80,148.50 C515.73,150.58 509.65,152.45 507.40,154.70 C505.15,156.95 505.35,158.72 504.30,162.00 C503.25,165.28 504.05,170.93 501.10,174.40 C498.15,177.87 491.78,181.40 486.60,182.80 C481.42,184.20 474.17,183.33 470.00,182.80 C465.83,182.27 463.17,180.82 461.60,179.60 C460.03,178.38 459.90,177.92 460.60,175.50 Z" fill="#000" filter="url(#shA)"/>
<defs><radialGradient id="fd3" gradientUnits="userSpaceOnUse" cx="497" cy="149" r="40"><stop offset="0" stop-color="#fff" stop-opacity="0"/><stop offset="0.3" stop-color="#fff" stop-opacity="0"/><stop offset="1" stop-color="#fff" stop-opacity="0.75"/></radialGradient></defs>
<path d="M460.60,175.50 C461.30,173.08 463.20,169.08 465.80,165.10 C468.40,161.12 473.95,155.42 476.20,151.60 C478.45,147.78 477.22,144.80 479.30,142.20 C481.38,139.60 485.07,137.73 488.70,136.00 C492.33,134.27 497.30,132.67 501.10,131.80 C504.90,130.93 509.42,131.67 511.50,130.80 C513.58,129.93 511.87,127.12 513.60,126.60 C515.33,126.08 519.47,126.65 521.90,127.70 C524.33,128.75 527.33,131.00 528.20,132.90 C529.07,134.80 528.50,137.55 527.10,139.10 C525.70,140.65 521.35,140.63 519.80,142.20 C518.25,143.77 519.87,146.42 517.80,148.50 C515.73,150.58 509.65,152.45 507.40,154.70 C505.15,156.95 505.35,158.72 504.30,162.00 C503.25,165.28 504.05,170.93 501.10,174.40 C498.15,177.87 491.78,181.40 486.60,182.80 C481.42,184.20 474.17,183.33 470.00,182.80 C465.83,182.27 463.17,180.82 461.60,179.60 C460.03,178.38 459.90,177.92 460.60,175.50 Z" fill="url(#fd3)"/>
<path d="M470.00,177.00 C469.67,174.67 470.17,170.17 472.00,167.00 C473.83,163.83 477.50,160.33 481.00,158.00 C484.50,155.67 490.83,153.17 493.00,153.00 C495.17,152.83 494.83,154.33 494.00,157.00 C493.17,159.67 490.00,165.50 488.00,169.00 C486.00,172.50 484.33,176.00 482.00,178.00 C479.67,180.00 476.00,181.17 474.00,181.00 C472.00,180.83 470.33,179.33 470.00,177.00 Z" fill="#000" filter="url(#shB)"/>
<ellipse cx="478.3" cy="171.3" rx="11.00" ry="8.00" transform="rotate(-45 478.3 171.3)" fill="url(#ringG)" stroke="#f2f2f2" stroke-width="0.55"/>
<ellipse cx="478.3" cy="171.3" rx="8.14" ry="5.92" transform="rotate(-45 478.3 171.3)" fill="url(#ringG)" stroke="#f2f2f2" stroke-width="0.55"/>
<ellipse cx="478.3" cy="171.3" rx="5.50" ry="4.00" transform="rotate(-45 478.3 171.3)" fill="url(#ringG)" stroke="#f2f2f2" stroke-width="0.55"/>
<ellipse cx="478.3" cy="171.3" rx="3.08" ry="2.24" transform="rotate(-45 478.3 171.3)" fill="url(#ringG)" stroke="#f2f2f2" stroke-width="0.55"/>
<path d="M460.60,175.50 C461.30,173.08 463.20,169.08 465.80,165.10 C468.40,161.12 473.95,155.42 476.20,151.60 C478.45,147.78 477.22,144.80 479.30,142.20 C481.38,139.60 485.07,137.73 488.70,136.00 C492.33,134.27 497.30,132.67 501.10,131.80 C504.90,130.93 509.42,131.67 511.50,130.80 C513.58,129.93 511.87,127.12 513.60,126.60 C515.33,126.08 519.47,126.65 521.90,127.70 C524.33,128.75 527.33,131.00 528.20,132.90 C529.07,134.80 528.50,137.55 527.10,139.10 C525.70,140.65 521.35,140.63 519.80,142.20 C518.25,143.77 519.87,146.42 517.80,148.50 C515.73,150.58 509.65,152.45 507.40,154.70 C505.15,156.95 505.35,158.72 504.30,162.00 C503.25,165.28 504.05,170.93 501.10,174.40 C498.15,177.87 491.78,181.40 486.60,182.80 C481.42,184.20 474.17,183.33 470.00,182.80 C465.83,182.27 463.17,180.82 461.60,179.60 C460.03,178.38 459.90,177.92 460.60,175.50 Z" fill="none" stroke="#000" stroke-width="2.4" stroke-linejoin="round"/>
<path d="M512,130 L514,126 L522,127 L528.5,132.5 L527,139.5 L520,142.5 L515,141 Z" fill="#000"/><circle cx="534.3" cy="124.5" r="4.3" fill="#000"/>
<rect x="451.30" y="43.50" width="156.40" height="156.40" fill="none" stroke="#777" stroke-width="1.5"/>
<line x1="447.10" y1="49.10" x2="451.30" y2="49.10" stroke="#111" stroke-width="1.2"/>
<line x1="447.10" y1="74.10" x2="451.30" y2="74.10" stroke="#111" stroke-width="1.2"/>
<line x1="447.10" y1="99.30" x2="451.30" y2="99.30" stroke="#111" stroke-width="1.2"/>
<line x1="447.10" y1="125.70" x2="451.30" y2="125.70" stroke="#111" stroke-width="1.2"/>
<line x1="447.10" y1="156.50" x2="451.30" y2="156.50" stroke="#111" stroke-width="1.2"/>
<line x1="447.10" y1="174.60" x2="451.30" y2="174.60" stroke="#111" stroke-width="1.2"/>
<line x1="447.10" y1="192.40" x2="451.30" y2="192.40" stroke="#111" stroke-width="1.2"/>
<line x1="449.10" y1="66.57" x2="451.30" y2="66.57" stroke="#444" stroke-width="0.9"/>
<line x1="449.10" y1="62.17" x2="451.30" y2="62.17" stroke="#444" stroke-width="0.9"/>
<line x1="449.10" y1="59.05" x2="451.30" y2="59.05" stroke="#444" stroke-width="0.9"/>
<line x1="449.10" y1="56.63" x2="451.30" y2="56.63" stroke="#444" stroke-width="0.9"/>
<line x1="449.10" y1="54.65" x2="451.30" y2="54.65" stroke="#444" stroke-width="0.9"/>
<line x1="449.10" y1="52.97" x2="451.30" y2="52.97" stroke="#444" stroke-width="0.9"/>
<line x1="449.10" y1="51.52" x2="451.30" y2="51.52" stroke="#444" stroke-width="0.9"/>
<line x1="449.10" y1="50.24" x2="451.30" y2="50.24" stroke="#444" stroke-width="0.9"/>
<line x1="449.10" y1="91.71" x2="451.30" y2="91.71" stroke="#444" stroke-width="0.9"/>
<line x1="449.10" y1="87.28" x2="451.30" y2="87.28" stroke="#444" stroke-width="0.9"/>
<line x1="449.10" y1="84.13" x2="451.30" y2="84.13" stroke="#444" stroke-width="0.9"/>
<line x1="449.10" y1="81.69" x2="451.30" y2="81.69" stroke="#444" stroke-width="0.9"/>
<line x1="449.10" y1="79.69" x2="451.30" y2="79.69" stroke="#444" stroke-width="0.9"/>
<line x1="449.10" y1="78.00" x2="451.30" y2="78.00" stroke="#444" stroke-width="0.9"/>
<line x1="449.10" y1="76.54" x2="451.30" y2="76.54" stroke="#444" stroke-width="0.9"/>
<line x1="449.10" y1="75.25" x2="451.30" y2="75.25" stroke="#444" stroke-width="0.9"/>
<line x1="449.10" y1="117.75" x2="451.30" y2="117.75" stroke="#444" stroke-width="0.9"/>
<line x1="449.10" y1="113.10" x2="451.30" y2="113.10" stroke="#444" stroke-width="0.9"/>
<line x1="449.10" y1="109.81" x2="451.30" y2="109.81" stroke="#444" stroke-width="0.9"/>
<line x1="449.10" y1="107.25" x2="451.30" y2="107.25" stroke="#444" stroke-width="0.9"/>
<line x1="449.10" y1="105.16" x2="451.30" y2="105.16" stroke="#444" stroke-width="0.9"/>
<line x1="449.10" y1="103.39" x2="451.30" y2="103.39" stroke="#444" stroke-width="0.9"/>
<line x1="449.10" y1="101.86" x2="451.30" y2="101.86" stroke="#444" stroke-width="0.9"/>
<line x1="449.10" y1="100.51" x2="451.30" y2="100.51" stroke="#444" stroke-width="0.9"/>
<line x1="449.10" y1="147.23" x2="451.30" y2="147.23" stroke="#444" stroke-width="0.9"/>
<line x1="449.10" y1="141.80" x2="451.30" y2="141.80" stroke="#444" stroke-width="0.9"/>
<line x1="449.10" y1="137.96" x2="451.30" y2="137.96" stroke="#444" stroke-width="0.9"/>
<line x1="449.10" y1="134.97" x2="451.30" y2="134.97" stroke="#444" stroke-width="0.9"/>
<line x1="449.10" y1="132.53" x2="451.30" y2="132.53" stroke="#444" stroke-width="0.9"/>
<line x1="449.10" y1="130.47" x2="451.30" y2="130.47" stroke="#444" stroke-width="0.9"/>
<line x1="449.10" y1="128.68" x2="451.30" y2="128.68" stroke="#444" stroke-width="0.9"/>
<line x1="449.10" y1="127.11" x2="451.30" y2="127.11" stroke="#444" stroke-width="0.9"/>
<line x1="449.10" y1="188.81" x2="451.30" y2="188.81" stroke="#444" stroke-width="0.9"/>
<line x1="449.10" y1="185.22" x2="451.30" y2="185.22" stroke="#444" stroke-width="0.9"/>
<line x1="449.10" y1="181.63" x2="451.30" y2="181.63" stroke="#444" stroke-width="0.9"/>
<line x1="449.10" y1="178.04" x2="451.30" y2="178.04" stroke="#444" stroke-width="0.9"/>
<line x1="449.10" y1="174.45" x2="451.30" y2="174.45" stroke="#444" stroke-width="0.9"/>
<line x1="449.10" y1="170.86" x2="451.30" y2="170.86" stroke="#444" stroke-width="0.9"/>
<line x1="449.10" y1="167.27" x2="451.30" y2="167.27" stroke="#444" stroke-width="0.9"/>
<line x1="449.10" y1="163.68" x2="451.30" y2="163.68" stroke="#444" stroke-width="0.9"/>
<line x1="449.10" y1="160.09" x2="451.30" y2="160.09" stroke="#444" stroke-width="0.9"/>
<rect x="447.50" y="172.30" width="3.8" height="4.6" fill="#111"/>
<line x1="457.30" y1="199.90" x2="457.30" y2="204.10" stroke="#111" stroke-width="1.2"/>
<line x1="475.90" y1="199.90" x2="475.90" y2="204.10" stroke="#111" stroke-width="1.2"/>
<line x1="493.80" y1="199.90" x2="493.80" y2="204.10" stroke="#111" stroke-width="1.2"/>
<line x1="524.40" y1="199.90" x2="524.40" y2="204.10" stroke="#111" stroke-width="1.2"/>
<line x1="550.30" y1="199.90" x2="550.30" y2="204.10" stroke="#111" stroke-width="1.2"/>
<line x1="576.00" y1="199.90" x2="576.00" y2="204.10" stroke="#111" stroke-width="1.2"/>
<line x1="601.10" y1="199.90" x2="601.10" y2="204.10" stroke="#111" stroke-width="1.2"/>
<line x1="503.01" y1="199.90" x2="503.01" y2="202.10" stroke="#444" stroke-width="0.9"/>
<line x1="508.40" y1="199.90" x2="508.40" y2="202.10" stroke="#444" stroke-width="0.9"/>
<line x1="512.22" y1="199.90" x2="512.22" y2="202.10" stroke="#444" stroke-width="0.9"/>
<line x1="515.19" y1="199.90" x2="515.19" y2="202.10" stroke="#444" stroke-width="0.9"/>
<line x1="517.61" y1="199.90" x2="517.61" y2="202.10" stroke="#444" stroke-width="0.9"/>
<line x1="519.66" y1="199.90" x2="519.66" y2="202.10" stroke="#444" stroke-width="0.9"/>
<line x1="521.43" y1="199.90" x2="521.43" y2="202.10" stroke="#444" stroke-width="0.9"/>
<line x1="523.00" y1="199.90" x2="523.00" y2="202.10" stroke="#444" stroke-width="0.9"/>
<line x1="532.20" y1="199.90" x2="532.20" y2="202.10" stroke="#444" stroke-width="0.9"/>
<line x1="536.76" y1="199.90" x2="536.76" y2="202.10" stroke="#444" stroke-width="0.9"/>
<line x1="539.99" y1="199.90" x2="539.99" y2="202.10" stroke="#444" stroke-width="0.9"/>
<line x1="542.50" y1="199.90" x2="542.50" y2="202.10" stroke="#444" stroke-width="0.9"/>
<line x1="544.55" y1="199.90" x2="544.55" y2="202.10" stroke="#444" stroke-width="0.9"/>
<line x1="546.29" y1="199.90" x2="546.29" y2="202.10" stroke="#444" stroke-width="0.9"/>
<line x1="547.79" y1="199.90" x2="547.79" y2="202.10" stroke="#444" stroke-width="0.9"/>
<line x1="549.11" y1="199.90" x2="549.11" y2="202.10" stroke="#444" stroke-width="0.9"/>
<line x1="558.04" y1="199.90" x2="558.04" y2="202.10" stroke="#444" stroke-width="0.9"/>
<line x1="562.56" y1="199.90" x2="562.56" y2="202.10" stroke="#444" stroke-width="0.9"/>
<line x1="565.77" y1="199.90" x2="565.77" y2="202.10" stroke="#444" stroke-width="0.9"/>
<line x1="568.26" y1="199.90" x2="568.26" y2="202.10" stroke="#444" stroke-width="0.9"/>
<line x1="570.30" y1="199.90" x2="570.30" y2="202.10" stroke="#444" stroke-width="0.9"/>
<line x1="572.02" y1="199.90" x2="572.02" y2="202.10" stroke="#444" stroke-width="0.9"/>
<line x1="573.51" y1="199.90" x2="573.51" y2="202.10" stroke="#444" stroke-width="0.9"/>
<line x1="574.82" y1="199.90" x2="574.82" y2="202.10" stroke="#444" stroke-width="0.9"/>
<line x1="583.56" y1="199.90" x2="583.56" y2="202.10" stroke="#444" stroke-width="0.9"/>
<line x1="587.98" y1="199.90" x2="587.98" y2="202.10" stroke="#444" stroke-width="0.9"/>
<line x1="591.11" y1="199.90" x2="591.11" y2="202.10" stroke="#444" stroke-width="0.9"/>
<line x1="593.54" y1="199.90" x2="593.54" y2="202.10" stroke="#444" stroke-width="0.9"/>
<line x1="595.53" y1="199.90" x2="595.53" y2="202.10" stroke="#444" stroke-width="0.9"/>
<line x1="597.21" y1="199.90" x2="597.21" y2="202.10" stroke="#444" stroke-width="0.9"/>
<line x1="598.67" y1="199.90" x2="598.67" y2="202.10" stroke="#444" stroke-width="0.9"/>
<line x1="599.95" y1="199.90" x2="599.95" y2="202.10" stroke="#444" stroke-width="0.9"/>
<line x1="460.95" y1="199.90" x2="460.95" y2="202.10" stroke="#444" stroke-width="0.9"/>
<line x1="464.60" y1="199.90" x2="464.60" y2="202.10" stroke="#444" stroke-width="0.9"/>
<line x1="468.25" y1="199.90" x2="468.25" y2="202.10" stroke="#444" stroke-width="0.9"/>
<line x1="471.90" y1="199.90" x2="471.90" y2="202.10" stroke="#444" stroke-width="0.9"/>
<line x1="475.55" y1="199.90" x2="475.55" y2="202.10" stroke="#444" stroke-width="0.9"/>
<line x1="479.20" y1="199.90" x2="479.20" y2="202.10" stroke="#444" stroke-width="0.9"/>
<line x1="482.85" y1="199.90" x2="482.85" y2="202.10" stroke="#444" stroke-width="0.9"/>
<line x1="486.50" y1="199.90" x2="486.50" y2="202.10" stroke="#444" stroke-width="0.9"/>
<line x1="490.15" y1="199.90" x2="490.15" y2="202.10" stroke="#444" stroke-width="0.9"/>
<rect x="473.20" y="199.90" width="5.4" height="3.6" fill="#111"/>
<text transform="translate(439.40,56.10) scale(0.85,1)" font-family='"Liberation Sans", sans-serif' font-size="8.3" font-weight="bold" text-anchor="end" stroke="#000" stroke-width="0.22">10</text>
<text x="439.50" y="50.20" font-family='"Liberation Sans", sans-serif' font-size="7.0" font-weight="bold" font-style="normal" text-anchor="start" fill="#000" stroke="#000" stroke-width="0.2">7</text>
<text transform="translate(439.40,79.30) scale(0.85,1)" font-family='"Liberation Sans", sans-serif' font-size="8.3" font-weight="bold" text-anchor="end" stroke="#000" stroke-width="0.22">10</text>
<text x="439.50" y="73.80" font-family='"Liberation Sans", sans-serif' font-size="7.0" font-weight="bold" font-style="normal" text-anchor="start" fill="#000" stroke="#000" stroke-width="0.2">6</text>
<text transform="translate(439.40,104.50) scale(0.85,1)" font-family='"Liberation Sans", sans-serif' font-size="8.3" font-weight="bold" text-anchor="end" stroke="#000" stroke-width="0.22">10</text>
<text x="439.50" y="99.00" font-family='"Liberation Sans", sans-serif' font-size="7.0" font-weight="bold" font-style="normal" text-anchor="start" fill="#000" stroke="#000" stroke-width="0.2">5</text>
<text transform="translate(439.40,130.90) scale(0.85,1)" font-family='"Liberation Sans", sans-serif' font-size="8.3" font-weight="bold" text-anchor="end" stroke="#000" stroke-width="0.22">10</text>
<text x="439.50" y="125.40" font-family='"Liberation Sans", sans-serif' font-size="7.0" font-weight="bold" font-style="normal" text-anchor="start" fill="#000" stroke="#000" stroke-width="0.2">4</text>
<text transform="translate(439.40,162.10) scale(0.85,1)" font-family='"Liberation Sans", sans-serif' font-size="8.3" font-weight="bold" text-anchor="end" stroke="#000" stroke-width="0.22">10</text>
<text x="439.50" y="156.50" font-family='"Liberation Sans", sans-serif' font-size="7.0" font-weight="bold" font-style="normal" text-anchor="start" fill="#000" stroke="#000" stroke-width="0.2">3</text>
<text transform="translate(439.40,198.30) scale(0.85,1)" font-family='"Liberation Sans", sans-serif' font-size="8.3" font-weight="bold" text-anchor="end" stroke="#000" stroke-width="0.22">-10</text>
<text x="439.50" y="192.40" font-family='"Liberation Sans", sans-serif' font-size="7.0" font-weight="bold" font-style="normal" text-anchor="start" fill="#000" stroke="#000" stroke-width="0.2">3</text>
<text transform="translate(439.50,178.50) scale(0.85,1)" font-family='"Liberation Sans", sans-serif' font-size="8.3" font-weight="bold" text-anchor="end" stroke="#000" stroke-width="0.22">0</text>
<text x="477.80" y="216.90" font-family='"Liberation Sans", sans-serif' font-size="8.3" font-weight="bold" font-style="normal" text-anchor="middle" fill="#000" stroke="#000" stroke-width="0.22">0</text>
<text x="523.80" y="216.90" font-family='"Liberation Sans", sans-serif' font-size="8.3" font-weight="bold" font-style="normal" text-anchor="start" fill="#000" stroke="#000" stroke-width="0.22">10</text>
<text x="532.00" y="211.90" font-family='"Liberation Sans", sans-serif' font-size="8.3" font-weight="bold" font-style="normal" text-anchor="start" fill="#000" stroke="#000" stroke-width="0.2">4</text>
<text x="550.30" y="216.90" font-family='"Liberation Sans", sans-serif' font-size="8.3" font-weight="bold" font-style="normal" text-anchor="start" fill="#000" stroke="#000" stroke-width="0.22">10</text>
<text x="558.50" y="211.90" font-family='"Liberation Sans", sans-serif' font-size="8.3" font-weight="bold" font-style="normal" text-anchor="start" fill="#000" stroke="#000" stroke-width="0.2">5</text>
<text x="575.70" y="216.90" font-family='"Liberation Sans", sans-serif' font-size="8.3" font-weight="bold" font-style="normal" text-anchor="start" fill="#000" stroke="#000" stroke-width="0.22">10</text>
<text x="583.90" y="211.90" font-family='"Liberation Sans", sans-serif' font-size="8.3" font-weight="bold" font-style="normal" text-anchor="start" fill="#000" stroke="#000" stroke-width="0.2">6</text>
<text x="594.80" y="216.90" font-family='"Liberation Sans", sans-serif' font-size="8.3" font-weight="bold" font-style="normal" text-anchor="start" fill="#000" stroke="#000" stroke-width="0.22">10</text>
<text x="603.00" y="211.90" font-family='"Liberation Sans", sans-serif' font-size="8.3" font-weight="bold" font-style="normal" text-anchor="start" fill="#000" stroke="#000" stroke-width="0.2">7</text>
<line x1="504.20" y1="43.50" x2="504.20" y2="199.90" stroke="#3a3a3a" stroke-width="1.8"/>
<line x1="451.30" y1="159.80" x2="607.70" y2="159.80" stroke="#3a3a3a" stroke-width="1.8"/>
<text transform="translate(454.00,55.70) scale(0.89,1)" font-family='"Liberation Sans", sans-serif' font-size="8.4" font-weight="bold" text-anchor="start" stroke="#000" stroke-width="0.22">18.4</text>
<text transform="translate(597.10,55.70) scale(0.89,1)" font-family='"Liberation Sans", sans-serif' font-size="8.4" font-weight="bold" text-anchor="end" stroke="#000" stroke-width="0.22">4.52</text>
<text transform="translate(453.50,193.70) scale(0.89,1)" font-family='"Liberation Sans", sans-serif' font-size="8.4" font-weight="bold" text-anchor="start" stroke="#000" stroke-width="0.22">76.9</text>
<text transform="translate(596.70,192.90) scale(0.89,1)" font-family='"Liberation Sans", sans-serif' font-size="8.4" font-weight="bold" text-anchor="end" stroke="#000" stroke-width="0.22">0.21</text>
<path d="M68.90,356.00 C69.05,352.92 69.63,347.32 70.70,343.00 C71.77,338.68 73.60,333.78 75.30,330.10 C77.00,326.42 79.20,323.83 80.90,320.90 C82.60,317.97 83.97,314.20 85.50,312.50 C87.03,310.80 88.57,311.30 90.10,310.70 C91.63,310.10 92.85,309.20 94.70,308.90 C96.55,308.60 99.82,307.83 101.20,308.90 C102.58,309.97 102.55,312.68 103.00,315.30 C103.45,317.92 103.43,320.90 103.90,324.60 C104.37,328.30 105.63,333.20 105.80,337.50 C105.97,341.80 105.67,346.10 104.90,350.40 C104.13,354.70 103.37,360.37 101.20,363.30 C99.03,366.23 95.90,367.38 91.90,368.00 C87.90,368.62 80.88,368.08 77.20,367.00 C73.52,365.92 71.18,363.33 69.80,361.50 C68.42,359.67 68.75,359.08 68.90,356.00 Z" fill="#000" filter="url(#shA2)"/>
<defs><radialGradient id="fd4" gradientUnits="userSpaceOnUse" cx="90" cy="330" r="30"><stop offset="0" stop-color="#fff" stop-opacity="0"/><stop offset="0.3" stop-color="#fff" stop-opacity="0"/><stop offset="1" stop-color="#fff" stop-opacity="0.6"/></radialGradient></defs>
<path d="M68.90,356.00 C69.05,352.92 69.63,347.32 70.70,343.00 C71.77,338.68 73.60,333.78 75.30,330.10 C77.00,326.42 79.20,323.83 80.90,320.90 C82.60,317.97 83.97,314.20 85.50,312.50 C87.03,310.80 88.57,311.30 90.10,310.70 C91.63,310.10 92.85,309.20 94.70,308.90 C96.55,308.60 99.82,307.83 101.20,308.90 C102.58,309.97 102.55,312.68 103.00,315.30 C103.45,317.92 103.43,320.90 103.90,324.60 C104.37,328.30 105.63,333.20 105.80,337.50 C105.97,341.80 105.67,346.10 104.90,350.40 C104.13,354.70 103.37,360.37 101.20,363.30 C99.03,366.23 95.90,367.38 91.90,368.00 C87.90,368.62 80.88,368.08 77.20,367.00 C73.52,365.92 71.18,363.33 69.80,361.50 C68.42,359.67 68.75,359.08 68.90,356.00 Z" fill="url(#fd4)"/>
<ellipse cx="87.3" cy="348.6" rx="13.00" ry="17.00" transform="rotate(15 87.3 348.6)" fill="url(#ringG)" stroke="#f2f2f2" stroke-width="0.55"/>
<ellipse cx="87.3" cy="348.6" rx="9.62" ry="12.58" transform="rotate(15 87.3 348.6)" fill="url(#ringG)" stroke="#f2f2f2" stroke-width="0.55"/>
<ellipse cx="87.3" cy="348.6" rx="6.76" ry="8.84" transform="rotate(15 87.3 348.6)" fill="url(#ringG)" stroke="#f2f2f2" stroke-width="0.55"/>
<ellipse cx="87.3" cy="348.6" rx="3.90" ry="5.10" transform="rotate(15 87.3 348.6)" fill="url(#ringG)" stroke="#f2f2f2" stroke-width="0.55"/>
<path d="M68.90,356.00 C69.05,352.92 69.63,347.32 70.70,343.00 C71.77,338.68 73.60,333.78 75.30,330.10 C77.00,326.42 79.20,323.83 80.90,320.90 C82.60,317.97 83.97,314.20 85.50,312.50 C87.03,310.80 88.57,311.30 90.10,310.70 C91.63,310.10 92.85,309.20 94.70,308.90 C96.55,308.60 99.82,307.83 101.20,308.90 C102.58,309.97 102.55,312.68 103.00,315.30 C103.45,317.92 103.43,320.90 103.90,324.60 C104.37,328.30 105.63,333.20 105.80,337.50 C105.97,341.80 105.67,346.10 104.90,350.40 C104.13,354.70 103.37,360.37 101.20,363.30 C99.03,366.23 95.90,367.38 91.90,368.00 C87.90,368.62 80.88,368.08 77.20,367.00 C73.52,365.92 71.18,363.33 69.80,361.50 C68.42,359.67 68.75,359.08 68.90,356.00 Z" fill="none" stroke="#000" stroke-width="2.0" stroke-linejoin="round"/>
<path d="M84,314 C86,311 90,310.5 94.7,308.9 C98,308 101,308.5 102.5,310 C103.5,313 103,316 103,318" fill="none" stroke="#000" stroke-width="3.6" stroke-linecap="round"/>
<rect x="58.60" y="237.50" width="156.40" height="156.40" fill="none" stroke="#777" stroke-width="1.5"/>
<line x1="54.40" y1="243.10" x2="58.60" y2="243.10" stroke="#111" stroke-width="1.2"/>
<line x1="54.40" y1="268.10" x2="58.60" y2="268.10" stroke="#111" stroke-width="1.2"/>
<line x1="54.40" y1="293.30" x2="58.60" y2="293.30" stroke="#111" stroke-width="1.2"/>
<line x1="54.40" y1="319.70" x2="58.60" y2="319.70" stroke="#111" stroke-width="1.2"/>
<line x1="54.40" y1="350.50" x2="58.60" y2="350.50" stroke="#111" stroke-width="1.2"/>
<line x1="54.40" y1="368.60" x2="58.60" y2="368.60" stroke="#111" stroke-width="1.2"/>
<line x1="54.40" y1="386.40" x2="58.60" y2="386.40" stroke="#111" stroke-width="1.2"/>
<line x1="56.40" y1="260.57" x2="58.60" y2="260.57" stroke="#444" stroke-width="0.9"/>
<line x1="56.40" y1="256.17" x2="58.60" y2="256.17" stroke="#444" stroke-width="0.9"/>
<line x1="56.40" y1="253.05" x2="58.60" y2="253.05" stroke="#444" stroke-width="0.9"/>
<line x1="56.40" y1="250.63" x2="58.60" y2="250.63" stroke="#444" stroke-width="0.9"/>
<line x1="56.40" y1="248.65" x2="58.60" y2="248.65" stroke="#444" stroke-width="0.9"/>
<line x1="56.40" y1="246.97" x2="58.60" y2="246.97" stroke="#444" stroke-width="0.9"/>
<line x1="56.40" y1="245.52" x2="58.60" y2="245.52" stroke="#444" stroke-width="0.9"/>
<line x1="56.40" y1="244.24" x2="58.60" y2="244.24" stroke="#444" stroke-width="0.9"/>
<line x1="56.40" y1="285.71" x2="58.60" y2="285.71" stroke="#444" stroke-width="0.9"/>
<line x1="56.40" y1="281.28" x2="58.60" y2="281.28" stroke="#444" stroke-width="0.9"/>
<line x1="56.40" y1="278.13" x2="58.60" y2="278.13" stroke="#444" stroke-width="0.9"/>
<line x1="56.40" y1="275.69" x2="58.60" y2="275.69" stroke="#444" stroke-width="0.9"/>
<line x1="56.40" y1="273.69" x2="58.60" y2="273.69" stroke="#444" stroke-width="0.9"/>
<line x1="56.40" y1="272.00" x2="58.60" y2="272.00" stroke="#444" stroke-width="0.9"/>
<line x1="56.40" y1="270.54" x2="58.60" y2="270.54" stroke="#444" stroke-width="0.9"/>
<line x1="56.40" y1="269.25" x2="58.60" y2="269.25" stroke="#444" stroke-width="0.9"/>
<line x1="56.40" y1="311.75" x2="58.60" y2="311.75" stroke="#444" stroke-width="0.9"/>
<line x1="56.40" y1="307.10" x2="58.60" y2="307.10" stroke="#444" stroke-width="0.9"/>
<line x1="56.40" y1="303.81" x2="58.60" y2="303.81" stroke="#444" stroke-width="0.9"/>
<line x1="56.40" y1="301.25" x2="58.60" y2="301.25" stroke="#444" stroke-width="0.9"/>
<line x1="56.40" y1="299.16" x2="58.60" y2="299.16" stroke="#444" stroke-width="0.9"/>
<line x1="56.40" y1="297.39" x2="58.60" y2="297.39" stroke="#444" stroke-width="0.9"/>
<line x1="56.40" y1="295.86" x2="58.60" y2="295.86" stroke="#444" stroke-width="0.9"/>
<line x1="56.40" y1="294.51" x2="58.60" y2="294.51" stroke="#444" stroke-width="0.9"/>
<line x1="56.40" y1="341.23" x2="58.60" y2="341.23" stroke="#444" stroke-width="0.9"/>
<line x1="56.40" y1="335.80" x2="58.60" y2="335.80" stroke="#444" stroke-width="0.9"/>
<line x1="56.40" y1="331.96" x2="58.60" y2="331.96" stroke="#444" stroke-width="0.9"/>
<line x1="56.40" y1="328.97" x2="58.60" y2="328.97" stroke="#444" stroke-width="0.9"/>
<line x1="56.40" y1="326.53" x2="58.60" y2="326.53" stroke="#444" stroke-width="0.9"/>
<line x1="56.40" y1="324.47" x2="58.60" y2="324.47" stroke="#444" stroke-width="0.9"/>
<line x1="56.40" y1="322.68" x2="58.60" y2="322.68" stroke="#444" stroke-width="0.9"/>
<line x1="56.40" y1="321.11" x2="58.60" y2="321.11" stroke="#444" stroke-width="0.9"/>
<line x1="56.40" y1="382.81" x2="58.60" y2="382.81" stroke="#444" stroke-width="0.9"/>
<line x1="56.40" y1="379.22" x2="58.60" y2="379.22" stroke="#444" stroke-width="0.9"/>
<line x1="56.40" y1="375.63" x2="58.60" y2="375.63" stroke="#444" stroke-width="0.9"/>
<line x1="56.40" y1="372.04" x2="58.60" y2="372.04" stroke="#444" stroke-width="0.9"/>
<line x1="56.40" y1="368.45" x2="58.60" y2="368.45" stroke="#444" stroke-width="0.9"/>
<line x1="56.40" y1="364.86" x2="58.60" y2="364.86" stroke="#444" stroke-width="0.9"/>
<line x1="56.40" y1="361.27" x2="58.60" y2="361.27" stroke="#444" stroke-width="0.9"/>
<line x1="56.40" y1="357.68" x2="58.60" y2="357.68" stroke="#444" stroke-width="0.9"/>
<line x1="56.40" y1="354.09" x2="58.60" y2="354.09" stroke="#444" stroke-width="0.9"/>
<rect x="54.80" y="366.30" width="3.8" height="4.6" fill="#111"/>
<line x1="64.60" y1="393.90" x2="64.60" y2="398.10" stroke="#111" stroke-width="1.2"/>
<line x1="83.20" y1="393.90" x2="83.20" y2="398.10" stroke="#111" stroke-width="1.2"/>
<line x1="101.10" y1="393.90" x2="101.10" y2="398.10" stroke="#111" stroke-width="1.2"/>
<line x1="131.70" y1="393.90" x2="131.70" y2="398.10" stroke="#111" stroke-width="1.2"/>
<line x1="157.60" y1="393.90" x2="157.60" y2="398.10" stroke="#111" stroke-width="1.2"/>
<line x1="183.30" y1="393.90" x2="183.30" y2="398.10" stroke="#111" stroke-width="1.2"/>
<line x1="208.40" y1="393.90" x2="208.40" y2="398.10" stroke="#111" stroke-width="1.2"/>
<line x1="110.31" y1="393.90" x2="110.31" y2="396.10" stroke="#444" stroke-width="0.9"/>
<line x1="115.70" y1="393.90" x2="115.70" y2="396.10" stroke="#444" stroke-width="0.9"/>
<line x1="119.52" y1="393.90" x2="119.52" y2="396.10" stroke="#444" stroke-width="0.9"/>
<line x1="122.49" y1="393.90" x2="122.49" y2="396.10" stroke="#444" stroke-width="0.9"/>
<line x1="124.91" y1="393.90" x2="124.91" y2="396.10" stroke="#444" stroke-width="0.9"/>
<line x1="126.96" y1="393.90" x2="126.96" y2="396.10" stroke="#444" stroke-width="0.9"/>
<line x1="128.73" y1="393.90" x2="128.73" y2="396.10" stroke="#444" stroke-width="0.9"/>
<line x1="130.30" y1="393.90" x2="130.30" y2="396.10" stroke="#444" stroke-width="0.9"/>
<line x1="139.50" y1="393.90" x2="139.50" y2="396.10" stroke="#444" stroke-width="0.9"/>
<line x1="144.06" y1="393.90" x2="144.06" y2="396.10" stroke="#444" stroke-width="0.9"/>
<line x1="147.29" y1="393.90" x2="147.29" y2="396.10" stroke="#444" stroke-width="0.9"/>
<line x1="149.80" y1="393.90" x2="149.80" y2="396.10" stroke="#444" stroke-width="0.9"/>
<line x1="151.85" y1="393.90" x2="151.85" y2="396.10" stroke="#444" stroke-width="0.9"/>
<line x1="153.59" y1="393.90" x2="153.59" y2="396.10" stroke="#444" stroke-width="0.9"/>
<line x1="155.09" y1="393.90" x2="155.09" y2="396.10" stroke="#444" stroke-width="0.9"/>
<line x1="156.41" y1="393.90" x2="156.41" y2="396.10" stroke="#444" stroke-width="0.9"/>
<line x1="165.34" y1="393.90" x2="165.34" y2="396.10" stroke="#444" stroke-width="0.9"/>
<line x1="169.86" y1="393.90" x2="169.86" y2="396.10" stroke="#444" stroke-width="0.9"/>
<line x1="173.07" y1="393.90" x2="173.07" y2="396.10" stroke="#444" stroke-width="0.9"/>
<line x1="175.56" y1="393.90" x2="175.56" y2="396.10" stroke="#444" stroke-width="0.9"/>
<line x1="177.60" y1="393.90" x2="177.60" y2="396.10" stroke="#444" stroke-width="0.9"/>
<line x1="179.32" y1="393.90" x2="179.32" y2="396.10" stroke="#444" stroke-width="0.9"/>
<line x1="180.81" y1="393.90" x2="180.81" y2="396.10" stroke="#444" stroke-width="0.9"/>
<line x1="182.12" y1="393.90" x2="182.12" y2="396.10" stroke="#444" stroke-width="0.9"/>
<line x1="190.86" y1="393.90" x2="190.86" y2="396.10" stroke="#444" stroke-width="0.9"/>
<line x1="195.28" y1="393.90" x2="195.28" y2="396.10" stroke="#444" stroke-width="0.9"/>
<line x1="198.41" y1="393.90" x2="198.41" y2="396.10" stroke="#444" stroke-width="0.9"/>
<line x1="200.84" y1="393.90" x2="200.84" y2="396.10" stroke="#444" stroke-width="0.9"/>
<line x1="202.83" y1="393.90" x2="202.83" y2="396.10" stroke="#444" stroke-width="0.9"/>
<line x1="204.51" y1="393.90" x2="204.51" y2="396.10" stroke="#444" stroke-width="0.9"/>
<line x1="205.97" y1="393.90" x2="205.97" y2="396.10" stroke="#444" stroke-width="0.9"/>
<line x1="207.25" y1="393.90" x2="207.25" y2="396.10" stroke="#444" stroke-width="0.9"/>
<line x1="68.25" y1="393.90" x2="68.25" y2="396.10" stroke="#444" stroke-width="0.9"/>
<line x1="71.90" y1="393.90" x2="71.90" y2="396.10" stroke="#444" stroke-width="0.9"/>
<line x1="75.55" y1="393.90" x2="75.55" y2="396.10" stroke="#444" stroke-width="0.9"/>
<line x1="79.20" y1="393.90" x2="79.20" y2="396.10" stroke="#444" stroke-width="0.9"/>
<line x1="82.85" y1="393.90" x2="82.85" y2="396.10" stroke="#444" stroke-width="0.9"/>
<line x1="86.50" y1="393.90" x2="86.50" y2="396.10" stroke="#444" stroke-width="0.9"/>
<line x1="90.15" y1="393.90" x2="90.15" y2="396.10" stroke="#444" stroke-width="0.9"/>
<line x1="93.80" y1="393.90" x2="93.80" y2="396.10" stroke="#444" stroke-width="0.9"/>
<line x1="97.45" y1="393.90" x2="97.45" y2="396.10" stroke="#444" stroke-width="0.9"/>
<rect x="80.50" y="393.90" width="5.4" height="3.6" fill="#111"/>
<text transform="translate(46.70,250.10) scale(0.85,1)" font-family='"Liberation Sans", sans-serif' font-size="8.3" font-weight="bold" text-anchor="end" stroke="#000" stroke-width="0.22">10</text>
<text x="46.80" y="244.20" font-family='"Liberation Sans", sans-serif' font-size="7.0" font-weight="bold" font-style="normal" text-anchor="start" fill="#000" stroke="#000" stroke-width="0.2">7</text>
<text transform="translate(46.70,273.30) scale(0.85,1)" font-family='"Liberation Sans", sans-serif' font-size="8.3" font-weight="bold" text-anchor="end" stroke="#000" stroke-width="0.22">10</text>
<text x="46.80" y="267.80" font-family='"Liberation Sans", sans-serif' font-size="7.0" font-weight="bold" font-style="normal" text-anchor="start" fill="#000" stroke="#000" stroke-width="0.2">6</text>
<text transform="translate(46.70,298.50) scale(0.85,1)" font-family='"Liberation Sans", sans-serif' font-size="8.3" font-weight="bold" text-anchor="end" stroke="#000" stroke-width="0.22">10</text>
<text x="46.80" y="293.00" font-family='"Liberation Sans", sans-serif' font-size="7.0" font-weight="bold" font-style="normal" text-anchor="start" fill="#000" stroke="#000" stroke-width="0.2">5</text>
<text transform="translate(46.70,324.90) scale(0.85,1)" font-family='"Liberation Sans", sans-serif' font-size="8.3" font-weight="bold" text-anchor="end" stroke="#000" stroke-width="0.22">10</text>
<text x="46.80" y="319.40" font-family='"Liberation Sans", sans-serif' font-size="7.0" font-weight="bold" font-style="normal" text-anchor="start" fill="#000" stroke="#000" stroke-width="0.2">4</text>
<text transform="translate(46.70,356.10) scale(0.85,1)" font-family='"Liberation Sans", sans-serif' font-size="8.3" font-weight="bold" text-anchor="end" stroke="#000" stroke-width="0.22">10</text>
<text x="46.80" y="350.50" font-family='"Liberation Sans", sans-serif' font-size="7.0" font-weight="bold" font-style="normal" text-anchor="start" fill="#000" stroke="#000" stroke-width="0.2">3</text>
<text transform="translate(46.70,392.30) scale(0.85,1)" font-family='"Liberation Sans", sans-serif' font-size="8.3" font-weight="bold" text-anchor="end" stroke="#000" stroke-width="0.22">-10</text>
<text x="46.80" y="386.40" font-family='"Liberation Sans", sans-serif' font-size="7.0" font-weight="bold" font-style="normal" text-anchor="start" fill="#000" stroke="#000" stroke-width="0.2">3</text>
<text transform="translate(46.80,372.50) scale(0.85,1)" font-family='"Liberation Sans", sans-serif' font-size="8.3" font-weight="bold" text-anchor="end" stroke="#000" stroke-width="0.22">0</text>
<text x="85.10" y="410.90" font-family='"Liberation Sans", sans-serif' font-size="8.3" font-weight="bold" font-style="normal" text-anchor="middle" fill="#000" stroke="#000" stroke-width="0.22">0</text>
<text x="131.10" y="410.90" font-family='"Liberation Sans", sans-serif' font-size="8.3" font-weight="bold" font-style="normal" text-anchor="start" fill="#000" stroke="#000" stroke-width="0.22">10</text>
<text x="139.30" y="405.90" font-family='"Liberation Sans", sans-serif' font-size="8.3" font-weight="bold" font-style="normal" text-anchor="start" fill="#000" stroke="#000" stroke-width="0.2">4</text>
<text x="157.60" y="410.90" font-family='"Liberation Sans", sans-serif' font-size="8.3" font-weight="bold" font-style="normal" text-anchor="start" fill="#000" stroke="#000" stroke-width="0.22">10</text>
<text x="165.80" y="405.90" font-family='"Liberation Sans", sans-serif' font-size="8.3" font-weight="bold" font-style="normal" text-anchor="start" fill="#000" stroke="#000" stroke-width="0.2">5</text>
<text x="183.00" y="410.90" font-family='"Liberation Sans", sans-serif' font-size="8.3" font-weight="bold" font-style="normal" text-anchor="start" fill="#000" stroke="#000" stroke-width="0.22">10</text>
<text x="191.20" y="405.90" font-family='"Liberation Sans", sans-serif' font-size="8.3" font-weight="bold" font-style="normal" text-anchor="start" fill="#000" stroke="#000" stroke-width="0.2">6</text>
<text x="202.10" y="410.90" font-family='"Liberation Sans", sans-serif' font-size="8.3" font-weight="bold" font-style="normal" text-anchor="start" fill="#000" stroke="#000" stroke-width="0.22">10</text>
<text x="210.30" y="405.90" font-family='"Liberation Sans", sans-serif' font-size="8.3" font-weight="bold" font-style="normal" text-anchor="start" fill="#000" stroke="#000" stroke-width="0.2">7</text>
<rect x="96.50" y="281.20" width="109.90" height="109.00" fill="none" stroke="#474747" stroke-width="1.2"/>
<text transform="translate(146.1,341.0) scale(0.92,1)" font-family='"Liberation Sans", sans-serif' font-size="14" font-weight="bold">10.8%</text>
<path d="M268.60,354.70 C268.93,351.43 269.97,346.82 271.60,342.90 C273.23,338.98 276.60,334.13 278.40,331.20 C280.20,328.27 282.55,326.93 282.40,325.30 C282.25,323.67 278.17,324.02 277.50,321.40 C276.83,318.78 277.10,313.03 278.40,309.60 C279.70,306.17 283.00,302.60 285.30,300.80 C287.60,299.00 289.75,297.98 292.20,298.80 C294.65,299.62 298.22,303.25 300.00,305.70 C301.78,308.15 303.07,310.23 302.90,313.50 C302.73,316.77 299.00,321.05 299.00,325.30 C299.00,329.55 302.08,334.43 302.90,339.00 C303.72,343.57 304.22,348.45 303.90,352.70 C303.58,356.95 303.45,361.38 301.00,364.50 C298.55,367.62 293.45,370.58 289.20,371.40 C284.95,372.22 278.77,370.88 275.50,369.40 C272.23,367.92 270.75,364.95 269.60,362.50 C268.45,360.05 268.27,357.97 268.60,354.70 Z" fill="#000" filter="url(#shA2)"/>
<defs><radialGradient id="fd5" gradientUnits="userSpaceOnUse" cx="289" cy="335" r="40"><stop offset="0" stop-color="#fff" stop-opacity="0"/><stop offset="0.3" stop-color="#fff" stop-opacity="0"/><stop offset="1" stop-color="#fff" stop-opacity="0.7"/></radialGradient></defs>
<path d="M268.60,354.70 C268.93,351.43 269.97,346.82 271.60,342.90 C273.23,338.98 276.60,334.13 278.40,331.20 C280.20,328.27 282.55,326.93 282.40,325.30 C282.25,323.67 278.17,324.02 277.50,321.40 C276.83,318.78 277.10,313.03 278.40,309.60 C279.70,306.17 283.00,302.60 285.30,300.80 C287.60,299.00 289.75,297.98 292.20,298.80 C294.65,299.62 298.22,303.25 300.00,305.70 C301.78,308.15 303.07,310.23 302.90,313.50 C302.73,316.77 299.00,321.05 299.00,325.30 C299.00,329.55 302.08,334.43 302.90,339.00 C303.72,343.57 304.22,348.45 303.90,352.70 C303.58,356.95 303.45,361.38 301.00,364.50 C298.55,367.62 293.45,370.58 289.20,371.40 C284.95,372.22 278.77,370.88 275.50,369.40 C272.23,367.92 270.75,364.95 269.60,362.50 C268.45,360.05 268.27,357.97 268.60,354.70 Z" fill="url(#fd5)"/>
<ellipse cx="286.3" cy="350.8" rx="13.00" ry="17.00" transform="rotate(15 286.3 350.8)" fill="url(#ringG)" stroke="#f2f2f2" stroke-width="0.55"/>
<ellipse cx="286.3" cy="350.8" rx="9.62" ry="12.58" transform="rotate(15 286.3 350.8)" fill="url(#ringG)" stroke="#f2f2f2" stroke-width="0.55"/>
<ellipse cx="286.3" cy="350.8" rx="6.76" ry="8.84" transform="rotate(15 286.3 350.8)" fill="url(#ringG)" stroke="#f2f2f2" stroke-width="0.55"/>
<ellipse cx="286.3" cy="350.8" rx="3.90" ry="5.10" transform="rotate(15 286.3 350.8)" fill="url(#ringG)" stroke="#f2f2f2" stroke-width="0.55"/>
<path d="M268.60,354.70 C268.93,351.43 269.97,346.82 271.60,342.90 C273.23,338.98 276.60,334.13 278.40,331.20 C280.20,328.27 282.55,326.93 282.40,325.30 C282.25,323.67 278.17,324.02 277.50,321.40 C276.83,318.78 277.10,313.03 278.40,309.60 C279.70,306.17 283.00,302.60 285.30,300.80 C287.60,299.00 289.75,297.98 292.20,298.80 C294.65,299.62 298.22,303.25 300.00,305.70 C301.78,308.15 303.07,310.23 302.90,313.50 C302.73,316.77 299.00,321.05 299.00,325.30 C299.00,329.55 302.08,334.43 302.90,339.00 C303.72,343.57 304.22,348.45 303.90,352.70 C303.58,356.95 303.45,361.38 301.00,364.50 C298.55,367.62 293.45,370.58 289.20,371.40 C284.95,372.22 278.77,370.88 275.50,369.40 C272.23,367.92 270.75,364.95 269.60,362.50 C268.45,360.05 268.27,357.97 268.60,354.70 Z" fill="none" stroke="#000" stroke-width="2.4" stroke-linejoin="round"/>
<rect x="257.90" y="238.40" width="156.40" height="156.40" fill="none" stroke="#777" stroke-width="1.5"/>
<line x1="253.70" y1="244.00" x2="257.90" y2="244.00" stroke="#111" stroke-width="1.2"/>
<line x1="253.70" y1="269.00" x2="257.90" y2="269.00" stroke="#111" stroke-width="1.2"/>
<line x1="253.70" y1="294.20" x2="257.90" y2="294.20" stroke="#111" stroke-width="1.2"/>
<line x1="253.70" y1="320.60" x2="257.90" y2="320.60" stroke="#111" stroke-width="1.2"/>
<line x1="253.70" y1="351.40" x2="257.90" y2="351.40" stroke="#111" stroke-width="1.2"/>
<line x1="253.70" y1="369.50" x2="257.90" y2="369.50" stroke="#111" stroke-width="1.2"/>
<line x1="253.70" y1="387.30" x2="257.90" y2="387.30" stroke="#111" stroke-width="1.2"/>
<line x1="255.70" y1="261.47" x2="257.90" y2="261.47" stroke="#444" stroke-width="0.9"/>
<line x1="255.70" y1="257.07" x2="257.90" y2="257.07" stroke="#444" stroke-width="0.9"/>
<line x1="255.70" y1="253.95" x2="257.90" y2="253.95" stroke="#444" stroke-width="0.9"/>
<line x1="255.70" y1="251.53" x2="257.90" y2="251.53" stroke="#444" stroke-width="0.9"/>
<line x1="255.70" y1="249.55" x2="257.90" y2="249.55" stroke="#444" stroke-width="0.9"/>
<line x1="255.70" y1="247.87" x2="257.90" y2="247.87" stroke="#444" stroke-width="0.9"/>
<line x1="255.70" y1="246.42" x2="257.90" y2="246.42" stroke="#444" stroke-width="0.9"/>
<line x1="255.70" y1="245.14" x2="257.90" y2="245.14" stroke="#444" stroke-width="0.9"/>
<line x1="255.70" y1="286.61" x2="257.90" y2="286.61" stroke="#444" stroke-width="0.9"/>
<line x1="255.70" y1="282.18" x2="257.90" y2="282.18" stroke="#444" stroke-width="0.9"/>
<line x1="255.70" y1="279.03" x2="257.90" y2="279.03" stroke="#444" stroke-width="0.9"/>
<line x1="255.70" y1="276.59" x2="257.90" y2="276.59" stroke="#444" stroke-width="0.9"/>
<line x1="255.70" y1="274.59" x2="257.90" y2="274.59" stroke="#444" stroke-width="0.9"/>
<line x1="255.70" y1="272.90" x2="257.90" y2="272.90" stroke="#444" stroke-width="0.9"/>
<line x1="255.70" y1="271.44" x2="257.90" y2="271.44" stroke="#444" stroke-width="0.9"/>
<line x1="255.70" y1="270.15" x2="257.90" y2="270.15" stroke="#444" stroke-width="0.9"/>
<line x1="255.70" y1="312.65" x2="257.90" y2="312.65" stroke="#444" stroke-width="0.9"/>
<line x1="255.70" y1="308.00" x2="257.90" y2="308.00" stroke="#444" stroke-width="0.9"/>
<line x1="255.70" y1="304.71" x2="257.90" y2="304.71" stroke="#444" stroke-width="0.9"/>
<line x1="255.70" y1="302.15" x2="257.90" y2="302.15" stroke="#444" stroke-width="0.9"/>
<line x1="255.70" y1="300.06" x2="257.90" y2="300.06" stroke="#444" stroke-width="0.9"/>
<line x1="255.70" y1="298.29" x2="257.90" y2="298.29" stroke="#444" stroke-width="0.9"/>
<line x1="255.70" y1="296.76" x2="257.90" y2="296.76" stroke="#444" stroke-width="0.9"/>
<line x1="255.70" y1="295.41" x2="257.90" y2="295.41" stroke="#444" stroke-width="0.9"/>
<line x1="255.70" y1="342.13" x2="257.90" y2="342.13" stroke="#444" stroke-width="0.9"/>
<line x1="255.70" y1="336.70" x2="257.90" y2="336.70" stroke="#444" stroke-width="0.9"/>
<line x1="255.70" y1="332.86" x2="257.90" y2="332.86" stroke="#444" stroke-width="0.9"/>
<line x1="255.70" y1="329.87" x2="257.90" y2="329.87" stroke="#444" stroke-width="0.9"/>
<line x1="255.70" y1="327.43" x2="257.90" y2="327.43" stroke="#444" stroke-width="0.9"/>
<line x1="255.70" y1="325.37" x2="257.90" y2="325.37" stroke="#444" stroke-width="0.9"/>
<line x1="255.70" y1="323.58" x2="257.90" y2="323.58" stroke="#444" stroke-width="0.9"/>
<line x1="255.70" y1="322.01" x2="257.90" y2="322.01" stroke="#444" stroke-width="0.9"/>
<line x1="255.70" y1="383.71" x2="257.90" y2="383.71" stroke="#444" stroke-width="0.9"/>
<line x1="255.70" y1="380.12" x2="257.90" y2="380.12" stroke="#444" stroke-width="0.9"/>
<line x1="255.70" y1="376.53" x2="257.90" y2="376.53" stroke="#444" stroke-width="0.9"/>
<line x1="255.70" y1="372.94" x2="257.90" y2="372.94" stroke="#444" stroke-width="0.9"/>
<line x1="255.70" y1="369.35" x2="257.90" y2="369.35" stroke="#444" stroke-width="0.9"/>
<line x1="255.70" y1="365.76" x2="257.90" y2="365.76" stroke="#444" stroke-width="0.9"/>
<line x1="255.70" y1="362.17" x2="257.90" y2="362.17" stroke="#444" stroke-width="0.9"/>
<line x1="255.70" y1="358.58" x2="257.90" y2="358.58" stroke="#444" stroke-width="0.9"/>
<line x1="255.70" y1="354.99" x2="257.90" y2="354.99" stroke="#444" stroke-width="0.9"/>
<rect x="254.10" y="367.20" width="3.8" height="4.6" fill="#111"/>
<line x1="263.90" y1="394.80" x2="263.90" y2="399.00" stroke="#111" stroke-width="1.2"/>
<line x1="282.50" y1="394.80" x2="282.50" y2="399.00" stroke="#111" stroke-width="1.2"/>
<line x1="300.40" y1="394.80" x2="300.40" y2="399.00" stroke="#111" stroke-width="1.2"/>
<line x1="331.00" y1="394.80" x2="331.00" y2="399.00" stroke="#111" stroke-width="1.2"/>
<line x1="356.90" y1="394.80" x2="356.90" y2="399.00" stroke="#111" stroke-width="1.2"/>
<line x1="382.60" y1="394.80" x2="382.60" y2="399.00" stroke="#111" stroke-width="1.2"/>
<line x1="407.70" y1="394.80" x2="407.70" y2="399.00" stroke="#111" stroke-width="1.2"/>
<line x1="309.61" y1="394.80" x2="309.61" y2="397.00" stroke="#444" stroke-width="0.9"/>
<line x1="315.00" y1="394.80" x2="315.00" y2="397.00" stroke="#444" stroke-width="0.9"/>
<line x1="318.82" y1="394.80" x2="318.82" y2="397.00" stroke="#444" stroke-width="0.9"/>
<line x1="321.79" y1="394.80" x2="321.79" y2="397.00" stroke="#444" stroke-width="0.9"/>
<line x1="324.21" y1="394.80" x2="324.21" y2="397.00" stroke="#444" stroke-width="0.9"/>
<line x1="326.26" y1="394.80" x2="326.26" y2="397.00" stroke="#444" stroke-width="0.9"/>
<line x1="328.03" y1="394.80" x2="328.03" y2="397.00" stroke="#444" stroke-width="0.9"/>
<line x1="329.60" y1="394.80" x2="329.60" y2="397.00" stroke="#444" stroke-width="0.9"/>
<line x1="338.80" y1="394.80" x2="338.80" y2="397.00" stroke="#444" stroke-width="0.9"/>
<line x1="343.36" y1="394.80" x2="343.36" y2="397.00" stroke="#444" stroke-width="0.9"/>
<line x1="346.59" y1="394.80" x2="346.59" y2="397.00" stroke="#444" stroke-width="0.9"/>
<line x1="349.10" y1="394.80" x2="349.10" y2="397.00" stroke="#444" stroke-width="0.9"/>
<line x1="351.15" y1="394.80" x2="351.15" y2="397.00" stroke="#444" stroke-width="0.9"/>
<line x1="352.89" y1="394.80" x2="352.89" y2="397.00" stroke="#444" stroke-width="0.9"/>
<line x1="354.39" y1="394.80" x2="354.39" y2="397.00" stroke="#444" stroke-width="0.9"/>
<line x1="355.71" y1="394.80" x2="355.71" y2="397.00" stroke="#444" stroke-width="0.9"/>
<line x1="364.64" y1="394.80" x2="364.64" y2="397.00" stroke="#444" stroke-width="0.9"/>
<line x1="369.16" y1="394.80" x2="369.16" y2="397.00" stroke="#444" stroke-width="0.9"/>
<line x1="372.37" y1="394.80" x2="372.37" y2="397.00" stroke="#444" stroke-width="0.9"/>
<line x1="374.86" y1="394.80" x2="374.86" y2="397.00" stroke="#444" stroke-width="0.9"/>
<line x1="376.90" y1="394.80" x2="376.90" y2="397.00" stroke="#444" stroke-width="0.9"/>
<line x1="378.62" y1="394.80" x2="378.62" y2="397.00" stroke="#444" stroke-width="0.9"/>
<line x1="380.11" y1="394.80" x2="380.11" y2="397.00" stroke="#444" stroke-width="0.9"/>
<line x1="381.42" y1="394.80" x2="381.42" y2="397.00" stroke="#444" stroke-width="0.9"/>
<line x1="390.16" y1="394.80" x2="390.16" y2="397.00" stroke="#444" stroke-width="0.9"/>
<line x1="394.58" y1="394.80" x2="394.58" y2="397.00" stroke="#444" stroke-width="0.9"/>
<line x1="397.71" y1="394.80" x2="397.71" y2="397.00" stroke="#444" stroke-width="0.9"/>
<line x1="400.14" y1="394.80" x2="400.14" y2="397.00" stroke="#444" stroke-width="0.9"/>
<line x1="402.13" y1="394.80" x2="402.13" y2="397.00" stroke="#444" stroke-width="0.9"/>
<line x1="403.81" y1="394.80" x2="403.81" y2="397.00" stroke="#444" stroke-width="0.9"/>
<line x1="405.27" y1="394.80" x2="405.27" y2="397.00" stroke="#444" stroke-width="0.9"/>
<line x1="406.55" y1="394.80" x2="406.55" y2="397.00" stroke="#444" stroke-width="0.9"/>
<line x1="267.55" y1="394.80" x2="267.55" y2="397.00" stroke="#444" stroke-width="0.9"/>
<line x1="271.20" y1="394.80" x2="271.20" y2="397.00" stroke="#444" stroke-width="0.9"/>
<line x1="274.85" y1="394.80" x2="274.85" y2="397.00" stroke="#444" stroke-width="0.9"/>
<line x1="278.50" y1="394.80" x2="278.50" y2="397.00" stroke="#444" stroke-width="0.9"/>
<line x1="282.15" y1="394.80" x2="282.15" y2="397.00" stroke="#444" stroke-width="0.9"/>
<line x1="285.80" y1="394.80" x2="285.80" y2="397.00" stroke="#444" stroke-width="0.9"/>
<line x1="289.45" y1="394.80" x2="289.45" y2="397.00" stroke="#444" stroke-width="0.9"/>
<line x1="293.10" y1="394.80" x2="293.10" y2="397.00" stroke="#444" stroke-width="0.9"/>
<line x1="296.75" y1="394.80" x2="296.75" y2="397.00" stroke="#444" stroke-width="0.9"/>
<rect x="279.80" y="394.80" width="5.4" height="3.6" fill="#111"/>
<text transform="translate(246.00,251.00) scale(0.85,1)" font-family='"Liberation Sans", sans-serif' font-size="8.3" font-weight="bold" text-anchor="end" stroke="#000" stroke-width="0.22">10</text>
<text x="246.10" y="245.10" font-family='"Liberation Sans", sans-serif' font-size="7.0" font-weight="bold" font-style="normal" text-anchor="start" fill="#000" stroke="#000" stroke-width="0.2">7</text>
<text transform="translate(246.00,274.20) scale(0.85,1)" font-family='"Liberation Sans", sans-serif' font-size="8.3" font-weight="bold" text-anchor="end" stroke="#000" stroke-width="0.22">10</text>
<text x="246.10" y="268.70" font-family='"Liberation Sans", sans-serif' font-size="7.0" font-weight="bold" font-style="normal" text-anchor="start" fill="#000" stroke="#000" stroke-width="0.2">6</text>
<text transform="translate(246.00,299.40) scale(0.85,1)" font-family='"Liberation Sans", sans-serif' font-size="8.3" font-weight="bold" text-anchor="end" stroke="#000" stroke-width="0.22">10</text>
<text x="246.10" y="293.90" font-family='"Liberation Sans", sans-serif' font-size="7.0" font-weight="bold" font-style="normal" text-anchor="start" fill="#000" stroke="#000" stroke-width="0.2">5</text>
<text transform="translate(246.00,325.80) scale(0.85,1)" font-family='"Liberation Sans", sans-serif' font-size="8.3" font-weight="bold" text-anchor="end" stroke="#000" stroke-width="0.22">10</text>
<text x="246.10" y="320.30" font-family='"Liberation Sans", sans-serif' font-size="7.0" font-weight="bold" font-style="normal" text-anchor="start" fill="#000" stroke="#000" stroke-width="0.2">4</text>
<text transform="translate(246.00,357.00) scale(0.85,1)" font-family='"Liberation Sans", sans-serif' font-size="8.3" font-weight="bold" text-anchor="end" stroke="#000" stroke-width="0.22">10</text>
<text x="246.10" y="351.40" font-family='"Liberation Sans", sans-serif' font-size="7.0" font-weight="bold" font-style="normal" text-anchor="start" fill="#000" stroke="#000" stroke-width="0.2">3</text>
<text transform="translate(246.00,393.20) scale(0.85,1)" font-family='"Liberation Sans", sans-serif' font-size="8.3" font-weight="bold" text-anchor="end" stroke="#000" stroke-width="0.22">-10</text>
<text x="246.10" y="387.30" font-family='"Liberation Sans", sans-serif' font-size="7.0" font-weight="bold" font-style="normal" text-anchor="start" fill="#000" stroke="#000" stroke-width="0.2">3</text>
<text transform="translate(246.10,373.40) scale(0.85,1)" font-family='"Liberation Sans", sans-serif' font-size="8.3" font-weight="bold" text-anchor="end" stroke="#000" stroke-width="0.22">0</text>
<text x="284.40" y="411.80" font-family='"Liberation Sans", sans-serif' font-size="8.3" font-weight="bold" font-style="normal" text-anchor="middle" fill="#000" stroke="#000" stroke-width="0.22">0</text>
<text x="330.40" y="411.80" font-family='"Liberation Sans", sans-serif' font-size="8.3" font-weight="bold" font-style="normal" text-anchor="start" fill="#000" stroke="#000" stroke-width="0.22">10</text>
<text x="338.60" y="406.80" font-family='"Liberation Sans", sans-serif' font-size="8.3" font-weight="bold" font-style="normal" text-anchor="start" fill="#000" stroke="#000" stroke-width="0.2">4</text>
<text x="356.90" y="411.80" font-family='"Liberation Sans", sans-serif' font-size="8.3" font-weight="bold" font-style="normal" text-anchor="start" fill="#000" stroke="#000" stroke-width="0.22">10</text>
<text x="365.10" y="406.80" font-family='"Liberation Sans", sans-serif' font-size="8.3" font-weight="bold" font-style="normal" text-anchor="start" fill="#000" stroke="#000" stroke-width="0.2">5</text>
<text x="382.30" y="411.80" font-family='"Liberation Sans", sans-serif' font-size="8.3" font-weight="bold" font-style="normal" text-anchor="start" fill="#000" stroke="#000" stroke-width="0.22">10</text>
<text x="390.50" y="406.80" font-family='"Liberation Sans", sans-serif' font-size="8.3" font-weight="bold" font-style="normal" text-anchor="start" fill="#000" stroke="#000" stroke-width="0.2">6</text>
<text x="401.40" y="411.80" font-family='"Liberation Sans", sans-serif' font-size="8.3" font-weight="bold" font-style="normal" text-anchor="start" fill="#000" stroke="#000" stroke-width="0.22">10</text>
<text x="409.60" y="406.80" font-family='"Liberation Sans", sans-serif' font-size="8.3" font-weight="bold" font-style="normal" text-anchor="start" fill="#000" stroke="#000" stroke-width="0.2">7</text>
<rect x="295.80" y="282.10" width="109.90" height="109.00" fill="none" stroke="#474747" stroke-width="1.2"/>
<text transform="translate(356.85,341.0) scale(0.92,1)" font-family='"Liberation Sans", sans-serif' font-size="14" font-weight="bold">7.53%</text>
<path d="M464.60,354.70 C464.77,350.28 465.28,343.90 466.60,339.00 C467.92,334.10 471.52,329.55 472.50,325.30 C473.48,321.05 471.53,316.93 472.50,313.50 C473.47,310.07 475.85,306.82 478.30,304.70 C480.75,302.58 484.08,300.80 487.20,300.80 C490.32,300.80 494.55,302.58 497.00,304.70 C499.45,306.82 501.08,310.40 501.90,313.50 C502.72,316.60 502.40,320.03 501.90,323.30 C501.40,326.57 499.72,328.85 498.90,333.10 C498.08,337.35 497.65,343.90 497.00,348.80 C496.35,353.70 497.13,358.57 495.00,362.50 C492.87,366.43 488.28,370.75 484.20,372.40 C480.12,374.05 473.60,373.55 470.50,372.40 C467.40,371.25 466.58,368.45 465.60,365.50 C464.62,362.55 464.43,359.12 464.60,354.70 Z" fill="#000" filter="url(#shA2)"/>
<defs><radialGradient id="fd6" gradientUnits="userSpaceOnUse" cx="484" cy="330" r="38"><stop offset="0" stop-color="#fff" stop-opacity="0"/><stop offset="0.3" stop-color="#fff" stop-opacity="0"/><stop offset="1" stop-color="#fff" stop-opacity="0.6"/></radialGradient></defs>
<path d="M464.60,354.70 C464.77,350.28 465.28,343.90 466.60,339.00 C467.92,334.10 471.52,329.55 472.50,325.30 C473.48,321.05 471.53,316.93 472.50,313.50 C473.47,310.07 475.85,306.82 478.30,304.70 C480.75,302.58 484.08,300.80 487.20,300.80 C490.32,300.80 494.55,302.58 497.00,304.70 C499.45,306.82 501.08,310.40 501.90,313.50 C502.72,316.60 502.40,320.03 501.90,323.30 C501.40,326.57 499.72,328.85 498.90,333.10 C498.08,337.35 497.65,343.90 497.00,348.80 C496.35,353.70 497.13,358.57 495.00,362.50 C492.87,366.43 488.28,370.75 484.20,372.40 C480.12,374.05 473.60,373.55 470.50,372.40 C467.40,371.25 466.58,368.45 465.60,365.50 C464.62,362.55 464.43,359.12 464.60,354.70 Z" fill="url(#fd6)"/>
<path d="M467.50,357.00 C466.75,353.08 468.17,348.50 469.50,345.00 C470.83,341.50 473.17,338.75 475.50,336.00 C477.83,333.25 481.08,329.00 483.50,328.50 C485.92,328.00 488.25,330.25 490.00,333.00 C491.75,335.75 493.25,340.67 494.00,345.00 C494.75,349.33 495.67,355.17 494.50,359.00 C493.33,362.83 490.42,366.42 487.00,368.00 C483.58,369.58 477.25,370.33 474.00,368.50 C470.75,366.67 468.25,360.92 467.50,357.00 Z" fill="#000" filter="url(#shB)"/>
<ellipse cx="480.3" cy="351.8" rx="13.00" ry="17.00" transform="rotate(15 480.3 351.8)" fill="url(#ringG)" stroke="#f2f2f2" stroke-width="0.55"/>
<ellipse cx="480.3" cy="351.8" rx="9.62" ry="12.58" transform="rotate(15 480.3 351.8)" fill="url(#ringG)" stroke="#f2f2f2" stroke-width="0.55"/>
<ellipse cx="480.3" cy="351.8" rx="6.76" ry="8.84" transform="rotate(15 480.3 351.8)" fill="url(#ringG)" stroke="#f2f2f2" stroke-width="0.55"/>
<ellipse cx="480.3" cy="351.8" rx="3.90" ry="5.10" transform="rotate(15 480.3 351.8)" fill="url(#ringG)" stroke="#f2f2f2" stroke-width="0.55"/>
<path d="M464.60,354.70 C464.77,350.28 465.28,343.90 466.60,339.00 C467.92,334.10 471.52,329.55 472.50,325.30 C473.48,321.05 471.53,316.93 472.50,313.50 C473.47,310.07 475.85,306.82 478.30,304.70 C480.75,302.58 484.08,300.80 487.20,300.80 C490.32,300.80 494.55,302.58 497.00,304.70 C499.45,306.82 501.08,310.40 501.90,313.50 C502.72,316.60 502.40,320.03 501.90,323.30 C501.40,326.57 499.72,328.85 498.90,333.10 C498.08,337.35 497.65,343.90 497.00,348.80 C496.35,353.70 497.13,358.57 495.00,362.50 C492.87,366.43 488.28,370.75 484.20,372.40 C480.12,374.05 473.60,373.55 470.50,372.40 C467.40,371.25 466.58,368.45 465.60,365.50 C464.62,362.55 464.43,359.12 464.60,354.70 Z" fill="none" stroke="#000" stroke-width="2.8" stroke-linejoin="round"/>
<path d="M473,312 C474,306 480,302 487.2,300.8 C493,301 498,304 501,310 C502.5,316 502,322 501.5,324" fill="none" stroke="#000" stroke-width="3" stroke-linecap="round"/>
<rect x="452.60" y="239.10" width="156.40" height="156.40" fill="none" stroke="#777" stroke-width="1.5"/>
<line x1="448.40" y1="244.70" x2="452.60" y2="244.70" stroke="#111" stroke-width="1.2"/>
<line x1="448.40" y1="269.70" x2="452.60" y2="269.70" stroke="#111" stroke-width="1.2"/>
<line x1="448.40" y1="294.90" x2="452.60" y2="294.90" stroke="#111" stroke-width="1.2"/>
<line x1="448.40" y1="321.30" x2="452.60" y2="321.30" stroke="#111" stroke-width="1.2"/>
<line x1="448.40" y1="352.10" x2="452.60" y2="352.10" stroke="#111" stroke-width="1.2"/>
<line x1="448.40" y1="370.20" x2="452.60" y2="370.20" stroke="#111" stroke-width="1.2"/>
<line x1="448.40" y1="388.00" x2="452.60" y2="388.00" stroke="#111" stroke-width="1.2"/>
<line x1="450.40" y1="262.17" x2="452.60" y2="262.17" stroke="#444" stroke-width="0.9"/>
<line x1="450.40" y1="257.77" x2="452.60" y2="257.77" stroke="#444" stroke-width="0.9"/>
<line x1="450.40" y1="254.65" x2="452.60" y2="254.65" stroke="#444" stroke-width="0.9"/>
<line x1="450.40" y1="252.23" x2="452.60" y2="252.23" stroke="#444" stroke-width="0.9"/>
<line x1="450.40" y1="250.25" x2="452.60" y2="250.25" stroke="#444" stroke-width="0.9"/>
<line x1="450.40" y1="248.57" x2="452.60" y2="248.57" stroke="#444" stroke-width="0.9"/>
<line x1="450.40" y1="247.12" x2="452.60" y2="247.12" stroke="#444" stroke-width="0.9"/>
<line x1="450.40" y1="245.84" x2="452.60" y2="245.84" stroke="#444" stroke-width="0.9"/>
<line x1="450.40" y1="287.31" x2="452.60" y2="287.31" stroke="#444" stroke-width="0.9"/>
<line x1="450.40" y1="282.88" x2="452.60" y2="282.88" stroke="#444" stroke-width="0.9"/>
<line x1="450.40" y1="279.73" x2="452.60" y2="279.73" stroke="#444" stroke-width="0.9"/>
<line x1="450.40" y1="277.29" x2="452.60" y2="277.29" stroke="#444" stroke-width="0.9"/>
<line x1="450.40" y1="275.29" x2="452.60" y2="275.29" stroke="#444" stroke-width="0.9"/>
<line x1="450.40" y1="273.60" x2="452.60" y2="273.60" stroke="#444" stroke-width="0.9"/>
<line x1="450.40" y1="272.14" x2="452.60" y2="272.14" stroke="#444" stroke-width="0.9"/>
<line x1="450.40" y1="270.85" x2="452.60" y2="270.85" stroke="#444" stroke-width="0.9"/>
<line x1="450.40" y1="313.35" x2="452.60" y2="313.35" stroke="#444" stroke-width="0.9"/>
<line x1="450.40" y1="308.70" x2="452.60" y2="308.70" stroke="#444" stroke-width="0.9"/>
<line x1="450.40" y1="305.41" x2="452.60" y2="305.41" stroke="#444" stroke-width="0.9"/>
<line x1="450.40" y1="302.85" x2="452.60" y2="302.85" stroke="#444" stroke-width="0.9"/>
<line x1="450.40" y1="300.76" x2="452.60" y2="300.76" stroke="#444" stroke-width="0.9"/>
<line x1="450.40" y1="298.99" x2="452.60" y2="298.99" stroke="#444" stroke-width="0.9"/>
<line x1="450.40" y1="297.46" x2="452.60" y2="297.46" stroke="#444" stroke-width="0.9"/>
<line x1="450.40" y1="296.11" x2="452.60" y2="296.11" stroke="#444" stroke-width="0.9"/>
<line x1="450.40" y1="342.83" x2="452.60" y2="342.83" stroke="#444" stroke-width="0.9"/>
<line x1="450.40" y1="337.40" x2="452.60" y2="337.40" stroke="#444" stroke-width="0.9"/>
<line x1="450.40" y1="333.56" x2="452.60" y2="333.56" stroke="#444" stroke-width="0.9"/>
<line x1="450.40" y1="330.57" x2="452.60" y2="330.57" stroke="#444" stroke-width="0.9"/>
<line x1="450.40" y1="328.13" x2="452.60" y2="328.13" stroke="#444" stroke-width="0.9"/>
<line x1="450.40" y1="326.07" x2="452.60" y2="326.07" stroke="#444" stroke-width="0.9"/>
<line x1="450.40" y1="324.28" x2="452.60" y2="324.28" stroke="#444" stroke-width="0.9"/>
<line x1="450.40" y1="322.71" x2="452.60" y2="322.71" stroke="#444" stroke-width="0.9"/>
<line x1="450.40" y1="384.41" x2="452.60" y2="384.41" stroke="#444" stroke-width="0.9"/>
<line x1="450.40" y1="380.82" x2="452.60" y2="380.82" stroke="#444" stroke-width="0.9"/>
<line x1="450.40" y1="377.23" x2="452.60" y2="377.23" stroke="#444" stroke-width="0.9"/>
<line x1="450.40" y1="373.64" x2="452.60" y2="373.64" stroke="#444" stroke-width="0.9"/>
<line x1="450.40" y1="370.05" x2="452.60" y2="370.05" stroke="#444" stroke-width="0.9"/>
<line x1="450.40" y1="366.46" x2="452.60" y2="366.46" stroke="#444" stroke-width="0.9"/>
<line x1="450.40" y1="362.87" x2="452.60" y2="362.87" stroke="#444" stroke-width="0.9"/>
<line x1="450.40" y1="359.28" x2="452.60" y2="359.28" stroke="#444" stroke-width="0.9"/>
<line x1="450.40" y1="355.69" x2="452.60" y2="355.69" stroke="#444" stroke-width="0.9"/>
<rect x="448.80" y="367.90" width="3.8" height="4.6" fill="#111"/>
<line x1="458.60" y1="395.50" x2="458.60" y2="399.70" stroke="#111" stroke-width="1.2"/>
<line x1="477.20" y1="395.50" x2="477.20" y2="399.70" stroke="#111" stroke-width="1.2"/>
<line x1="495.10" y1="395.50" x2="495.10" y2="399.70" stroke="#111" stroke-width="1.2"/>
<line x1="525.70" y1="395.50" x2="525.70" y2="399.70" stroke="#111" stroke-width="1.2"/>
<line x1="551.60" y1="395.50" x2="551.60" y2="399.70" stroke="#111" stroke-width="1.2"/>
<line x1="577.30" y1="395.50" x2="577.30" y2="399.70" stroke="#111" stroke-width="1.2"/>
<line x1="602.40" y1="395.50" x2="602.40" y2="399.70" stroke="#111" stroke-width="1.2"/>
<line x1="504.31" y1="395.50" x2="504.31" y2="397.70" stroke="#444" stroke-width="0.9"/>
<line x1="509.70" y1="395.50" x2="509.70" y2="397.70" stroke="#444" stroke-width="0.9"/>
<line x1="513.52" y1="395.50" x2="513.52" y2="397.70" stroke="#444" stroke-width="0.9"/>
<line x1="516.49" y1="395.50" x2="516.49" y2="397.70" stroke="#444" stroke-width="0.9"/>
<line x1="518.91" y1="395.50" x2="518.91" y2="397.70" stroke="#444" stroke-width="0.9"/>
<line x1="520.96" y1="395.50" x2="520.96" y2="397.70" stroke="#444" stroke-width="0.9"/>
<line x1="522.73" y1="395.50" x2="522.73" y2="397.70" stroke="#444" stroke-width="0.9"/>
<line x1="524.30" y1="395.50" x2="524.30" y2="397.70" stroke="#444" stroke-width="0.9"/>
<line x1="533.50" y1="395.50" x2="533.50" y2="397.70" stroke="#444" stroke-width="0.9"/>
<line x1="538.06" y1="395.50" x2="538.06" y2="397.70" stroke="#444" stroke-width="0.9"/>
<line x1="541.29" y1="395.50" x2="541.29" y2="397.70" stroke="#444" stroke-width="0.9"/>
<line x1="543.80" y1="395.50" x2="543.80" y2="397.70" stroke="#444" stroke-width="0.9"/>
<line x1="545.85" y1="395.50" x2="545.85" y2="397.70" stroke="#444" stroke-width="0.9"/>
<line x1="547.59" y1="395.50" x2="547.59" y2="397.70" stroke="#444" stroke-width="0.9"/>
<line x1="549.09" y1="395.50" x2="549.09" y2="397.70" stroke="#444" stroke-width="0.9"/>
<line x1="550.41" y1="395.50" x2="550.41" y2="397.70" stroke="#444" stroke-width="0.9"/>
<line x1="559.34" y1="395.50" x2="559.34" y2="397.70" stroke="#444" stroke-width="0.9"/>
<line x1="563.86" y1="395.50" x2="563.86" y2="397.70" stroke="#444" stroke-width="0.9"/>
<line x1="567.07" y1="395.50" x2="567.07" y2="397.70" stroke="#444" stroke-width="0.9"/>
<line x1="569.56" y1="395.50" x2="569.56" y2="397.70" stroke="#444" stroke-width="0.9"/>
<line x1="571.60" y1="395.50" x2="571.60" y2="397.70" stroke="#444" stroke-width="0.9"/>
<line x1="573.32" y1="395.50" x2="573.32" y2="397.70" stroke="#444" stroke-width="0.9"/>
<line x1="574.81" y1="395.50" x2="574.81" y2="397.70" stroke="#444" stroke-width="0.9"/>
<line x1="576.12" y1="395.50" x2="576.12" y2="397.70" stroke="#444" stroke-width="0.9"/>
<line x1="584.86" y1="395.50" x2="584.86" y2="397.70" stroke="#444" stroke-width="0.9"/>
<line x1="589.28" y1="395.50" x2="589.28" y2="397.70" stroke="#444" stroke-width="0.9"/>
<line x1="592.41" y1="395.50" x2="592.41" y2="397.70" stroke="#444" stroke-width="0.9"/>
<line x1="594.84" y1="395.50" x2="594.84" y2="397.70" stroke="#444" stroke-width="0.9"/>
<line x1="596.83" y1="395.50" x2="596.83" y2="397.70" stroke="#444" stroke-width="0.9"/>
<line x1="598.51" y1="395.50" x2="598.51" y2="397.70" stroke="#444" stroke-width="0.9"/>
<line x1="599.97" y1="395.50" x2="599.97" y2="397.70" stroke="#444" stroke-width="0.9"/>
<line x1="601.25" y1="395.50" x2="601.25" y2="397.70" stroke="#444" stroke-width="0.9"/>
<line x1="462.25" y1="395.50" x2="462.25" y2="397.70" stroke="#444" stroke-width="0.9"/>
<line x1="465.90" y1="395.50" x2="465.90" y2="397.70" stroke="#444" stroke-width="0.9"/>
<line x1="469.55" y1="395.50" x2="469.55" y2="397.70" stroke="#444" stroke-width="0.9"/>
<line x1="473.20" y1="395.50" x2="473.20" y2="397.70" stroke="#444" stroke-width="0.9"/>
<line x1="476.85" y1="395.50" x2="476.85" y2="397.70" stroke="#444" stroke-width="0.9"/>
<line x1="480.50" y1="395.50" x2="480.50" y2="397.70" stroke="#444" stroke-width="0.9"/>
<line x1="484.15" y1="395.50" x2="484.15" y2="397.70" stroke="#444" stroke-width="0.9"/>
<line x1="487.80" y1="395.50" x2="487.80" y2="397.70" stroke="#444" stroke-width="0.9"/>
<line x1="491.45" y1="395.50" x2="491.45" y2="397.70" stroke="#444" stroke-width="0.9"/>
<rect x="474.50" y="395.50" width="5.4" height="3.6" fill="#111"/>
<text transform="translate(440.70,251.70) scale(0.85,1)" font-family='"Liberation Sans", sans-serif' font-size="8.3" font-weight="bold" text-anchor="end" stroke="#000" stroke-width="0.22">10</text>
<text x="440.80" y="245.80" font-family='"Liberation Sans", sans-serif' font-size="7.0" font-weight="bold" font-style="normal" text-anchor="start" fill="#000" stroke="#000" stroke-width="0.2">7</text>
<text transform="translate(440.70,274.90) scale(0.85,1)" font-family='"Liberation Sans", sans-serif' font-size="8.3" font-weight="bold" text-anchor="end" stroke="#000" stroke-width="0.22">10</text>
<text x="440.80" y="269.40" font-family='"Liberation Sans", sans-serif' font-size="7.0" font-weight="bold" font-style="normal" text-anchor="start" fill="#000" stroke="#000" stroke-width="0.2">6</text>
<text transform="translate(440.70,300.10) scale(0.85,1)" font-family='"Liberation Sans", sans-serif' font-size="8.3" font-weight="bold" text-anchor="end" stroke="#000" stroke-width="0.22">10</text>
<text x="440.80" y="294.60" font-family='"Liberation Sans", sans-serif' font-size="7.0" font-weight="bold" font-style="normal" text-anchor="start" fill="#000" stroke="#000" stroke-width="0.2">5</text>
<text transform="translate(440.70,326.50) scale(0.85,1)" font-family='"Liberation Sans", sans-serif' font-size="8.3" font-weight="bold" text-anchor="end" stroke="#000" stroke-width="0.22">10</text>
<text x="440.80" y="321.00" font-family='"Liberation Sans", sans-serif' font-size="7.0" font-weight="bold" font-style="normal" text-anchor="start" fill="#000" stroke="#000" stroke-width="0.2">4</text>
<text transform="translate(440.70,357.70) scale(0.85,1)" font-family='"Liberation Sans", sans-serif' font-size="8.3" font-weight="bold" text-anchor="end" stroke="#000" stroke-width="0.22">10</text>
<text x="440.80" y="352.10" font-family='"Liberation Sans", sans-serif' font-size="7.0" font-weight="bold" font-style="normal" text-anchor="start" fill="#000" stroke="#000" stroke-width="0.2">3</text>
<text transform="translate(440.70,393.90) scale(0.85,1)" font-family='"Liberation Sans", sans-serif' font-size="8.3" font-weight="bold" text-anchor="end" stroke="#000" stroke-width="0.22">-10</text>
<text x="440.80" y="388.00" font-family='"Liberation Sans", sans-serif' font-size="7.0" font-weight="bold" font-style="normal" text-anchor="start" fill="#000" stroke="#000" stroke-width="0.2">3</text>
<text transform="translate(440.80,374.10) scale(0.85,1)" font-family='"Liberation Sans", sans-serif' font-size="8.3" font-weight="bold" text-anchor="end" stroke="#000" stroke-width="0.22">0</text>
<text x="479.10" y="412.50" font-family='"Liberation Sans", sans-serif' font-size="8.3" font-weight="bold" font-style="normal" text-anchor="middle" fill="#000" stroke="#000" stroke-width="0.22">0</text>
<text x="525.10" y="412.50" font-family='"Liberation Sans", sans-serif' font-size="8.3" font-weight="bold" font-style="normal" text-anchor="start" fill="#000" stroke="#000" stroke-width="0.22">10</text>
<text x="533.30" y="407.50" font-family='"Liberation Sans", sans-serif' font-size="8.3" font-weight="bold" font-style="normal" text-anchor="start" fill="#000" stroke="#000" stroke-width="0.2">4</text>
<text x="551.60" y="412.50" font-family='"Liberation Sans", sans-serif' font-size="8.3" font-weight="bold" font-style="normal" text-anchor="start" fill="#000" stroke="#000" stroke-width="0.22">10</text>
<text x="559.80" y="407.50" font-family='"Liberation Sans", sans-serif' font-size="8.3" font-weight="bold" font-style="normal" text-anchor="start" fill="#000" stroke="#000" stroke-width="0.2">5</text>
<text x="577.00" y="412.50" font-family='"Liberation Sans", sans-serif' font-size="8.3" font-weight="bold" font-style="normal" text-anchor="start" fill="#000" stroke="#000" stroke-width="0.22">10</text>
<text x="585.20" y="407.50" font-family='"Liberation Sans", sans-serif' font-size="8.3" font-weight="bold" font-style="normal" text-anchor="start" fill="#000" stroke="#000" stroke-width="0.2">6</text>
<text x="596.10" y="412.50" font-family='"Liberation Sans", sans-serif' font-size="8.3" font-weight="bold" font-style="normal" text-anchor="start" fill="#000" stroke="#000" stroke-width="0.22">10</text>
<text x="604.30" y="407.50" font-family='"Liberation Sans", sans-serif' font-size="8.3" font-weight="bold" font-style="normal" text-anchor="start" fill="#000" stroke="#000" stroke-width="0.2">7</text>
<rect x="490.50" y="282.80" width="109.90" height="109.00" fill="none" stroke="#474747" stroke-width="1.2"/>
<text transform="translate(548.7,341.0) scale(0.92,1)" font-family='"Liberation Sans", sans-serif' font-size="14" font-weight="bold">9.74%</text>
<path d="M28.10,88.30 L28.10,229.10 L388.20,229.10" fill="none" stroke="#000" stroke-width="2.6"/>
<path d="M23.90,88.80 L28.10,80.80 L32.30,88.80 Z" fill="#000"/>
<path d="M387.70,224.90 L395.70,229.10 L387.70,233.30 Z" fill="#000"/>
<path d="M28.10,282.20 L28.10,422.80 L388.20,422.80" fill="none" stroke="#000" stroke-width="2.6"/>
<path d="M23.90,282.70 L28.10,274.70 L32.30,282.70 Z" fill="#000"/>
<path d="M387.70,418.60 L395.70,422.80 L387.70,427.00 Z" fill="#000"/>
<text transform="translate(32.2,76.5) rotate(-90)" font-family='"Liberation Sans", sans-serif' font-size="10.8" font-weight="bold" fill="#cd6860">F4/80+</text>
<text transform="translate(31.9,272.8) rotate(-90)" font-family='"Liberation Sans", sans-serif' font-size="10.8" font-weight="bold" fill="#cd6860">CD11B+</text>
<text x="402.80" y="232.80" font-family='"Liberation Sans", sans-serif' font-size="10.8" font-weight="bold" font-style="normal" text-anchor="start" fill="#cd6860" >CD11B+</text>
<text x="403.10" y="426.70" font-family='"Liberation Sans", sans-serif' font-size="10.8" font-weight="bold" font-style="normal" text-anchor="start" fill="#cd6860" >CD206+</text>
<text x="625.30" y="63.10" font-family='"Liberation Sans", sans-serif' font-size="24" font-weight="bold" font-style="normal" text-anchor="start" fill="#000" >A</text>
<rect x="678.10" y="104.20" width="32.90" height="76.30" fill="#dfcc8d"/>
<line x1="694.55" y1="104.20" x2="694.55" y2="95.30" stroke="#dfcc8d" stroke-width="1.1"/>
<line x1="686.80" y1="95.30" x2="702.30" y2="95.30" stroke="#dfcc8d" stroke-width="1.1"/>
<rect x="719.20" y="102.20" width="32.90" height="78.30" fill="#e57b57"/>
<line x1="735.65" y1="102.20" x2="735.65" y2="92.00" stroke="#e57b57" stroke-width="1.1"/>
<line x1="727.90" y1="92.00" x2="743.40" y2="92.00" stroke="#e57b57" stroke-width="1.1"/>
<rect x="760.40" y="129.80" width="33.00" height="50.70" fill="#7ba893"/>
<line x1="776.90" y1="129.80" x2="776.90" y2="111.00" stroke="#7ba893" stroke-width="1.1"/>
<line x1="768.75" y1="111.00" x2="785.05" y2="111.00" stroke="#7ba893" stroke-width="1.1"/>
<line x1="662.60" y1="65.80" x2="662.60" y2="181.20" stroke="#111" stroke-width="1.4"/>
<line x1="661.90" y1="180.50" x2="810.00" y2="180.50" stroke="#111" stroke-width="1.4"/>
<line x1="659.40" y1="180.50" x2="662.60" y2="180.50" stroke="#111" stroke-width="1.3"/>
<text x="658.40" y="183.50" font-family='"Liberation Sans", sans-serif' font-size="8.3" font-weight="bold" font-style="normal" text-anchor="end" fill="#000" stroke="#000" stroke-width="0.18">0</text>
<line x1="659.40" y1="157.68" x2="662.60" y2="157.68" stroke="#111" stroke-width="1.3"/>
<text x="658.40" y="160.68" font-family='"Liberation Sans", sans-serif' font-size="8.3" font-weight="bold" font-style="normal" text-anchor="end" fill="#000" stroke="#000" stroke-width="0.18">2</text>
<line x1="659.40" y1="134.86" x2="662.60" y2="134.86" stroke="#111" stroke-width="1.3"/>
<text x="658.40" y="137.86" font-family='"Liberation Sans", sans-serif' font-size="8.3" font-weight="bold" font-style="normal" text-anchor="end" fill="#000" stroke="#000" stroke-width="0.18">4</text>
<line x1="659.40" y1="112.04" x2="662.60" y2="112.04" stroke="#111" stroke-width="1.3"/>
<text x="658.40" y="115.04" font-family='"Liberation Sans", sans-serif' font-size="8.3" font-weight="bold" font-style="normal" text-anchor="end" fill="#000" stroke="#000" stroke-width="0.18">6</text>
<line x1="659.40" y1="89.22" x2="662.60" y2="89.22" stroke="#111" stroke-width="1.3"/>
<text x="658.40" y="92.22" font-family='"Liberation Sans", sans-serif' font-size="8.3" font-weight="bold" font-style="normal" text-anchor="end" fill="#000" stroke="#000" stroke-width="0.18">8</text>
<line x1="659.40" y1="66.40" x2="662.60" y2="66.40" stroke="#111" stroke-width="1.3"/>
<text x="658.40" y="69.40" font-family='"Liberation Sans", sans-serif' font-size="8.3" font-weight="bold" font-style="normal" text-anchor="end" fill="#000" stroke="#000" stroke-width="0.18">10</text>
<line x1="694.55" y1="180.50" x2="694.55" y2="183.70" stroke="#111" stroke-width="1.3"/>
<line x1="735.65" y1="180.50" x2="735.65" y2="183.70" stroke="#111" stroke-width="1.3"/>
<line x1="776.90" y1="180.50" x2="776.90" y2="183.70" stroke="#111" stroke-width="1.3"/>
<text transform="translate(697.95,191.80) rotate(-45)" font-family='"Liberation Sans", sans-serif' font-size="9.0" font-weight="bold" text-anchor="end" stroke="#000" stroke-width="0.15">Control</text>
<text transform="translate(739.05,191.80) rotate(-45)" font-family='"Liberation Sans", sans-serif' font-size="9.0" font-weight="bold" text-anchor="end" stroke="#000" stroke-width="0.15">NC</text>
<text transform="translate(780.30,191.80) rotate(-45)" font-family='"Liberation Sans", sans-serif' font-size="9.0" font-weight="bold" text-anchor="end" stroke="#000" stroke-width="0.15">BUCPSH</text>
<text transform="translate(633.4,123.45) rotate(-90)" font-family='"Liberation Sans", sans-serif' font-size="9.6" font-weight="bold" text-anchor="middle">The proportion of</text>
<text transform="translate(644.8,123.45) rotate(-90)" font-family='"Liberation Sans", sans-serif' font-size="9.6" font-weight="bold" text-anchor="middle">F4/80+ CD11B+ cells</text>
<path d="M735.6,88.7 L735.6,84.2 L777.9,84.2 L777.9,107.5" fill="none" stroke="#000" stroke-width="1.15"/>
<text x="756.8" y="82.3" font-family='"Liberation Sans", sans-serif' font-size="9.7" text-anchor="middle" fill="#222">P=0.09</text>
<text x="627.00" y="245.90" font-family='"Liberation Sans", sans-serif' font-size="23" font-weight="bold" font-style="normal" text-anchor="start" fill="#000" >B</text>
<rect x="678.40" y="287.00" width="33.00" height="87.50" fill="#dfcc8d"/>
<line x1="694.90" y1="287.00" x2="694.90" y2="280.70" stroke="#dfcc8d" stroke-width="1.1"/>
<line x1="686.55" y1="280.70" x2="703.25" y2="280.70" stroke="#dfcc8d" stroke-width="1.1"/>
<rect x="719.80" y="313.90" width="32.70" height="60.60" fill="#e57b57"/>
<line x1="736.15" y1="313.90" x2="736.15" y2="311.40" stroke="#e57b57" stroke-width="1.1"/>
<line x1="727.80" y1="311.40" x2="744.50" y2="311.40" stroke="#e57b57" stroke-width="1.1"/>
<rect x="761.50" y="301.30" width="32.20" height="73.20" fill="#7ba893"/>
<line x1="777.60" y1="301.30" x2="777.60" y2="300.30" stroke="#7ba893" stroke-width="1.1"/>
<line x1="769.25" y1="300.30" x2="785.95" y2="300.30" stroke="#7ba893" stroke-width="1.1"/>
<line x1="662.60" y1="259.50" x2="662.60" y2="375.20" stroke="#111" stroke-width="1.4"/>
<line x1="661.90" y1="374.50" x2="810.00" y2="374.50" stroke="#111" stroke-width="1.4"/>
<line x1="659.40" y1="374.50" x2="662.60" y2="374.50" stroke="#111" stroke-width="1.3"/>
<text x="658.40" y="377.50" font-family='"Liberation Sans", sans-serif' font-size="8.3" font-weight="bold" font-style="normal" text-anchor="end" fill="#000" stroke="#000" stroke-width="0.18">0</text>
<line x1="659.40" y1="336.37" x2="662.60" y2="336.37" stroke="#111" stroke-width="1.3"/>
<text x="658.40" y="339.37" font-family='"Liberation Sans", sans-serif' font-size="8.3" font-weight="bold" font-style="normal" text-anchor="end" fill="#000" stroke="#000" stroke-width="0.18">5</text>
<line x1="659.40" y1="298.23" x2="662.60" y2="298.23" stroke="#111" stroke-width="1.3"/>
<text x="658.40" y="301.23" font-family='"Liberation Sans", sans-serif' font-size="8.3" font-weight="bold" font-style="normal" text-anchor="end" fill="#000" stroke="#000" stroke-width="0.18">10</text>
<line x1="659.40" y1="260.10" x2="662.60" y2="260.10" stroke="#111" stroke-width="1.3"/>
<text x="658.40" y="263.10" font-family='"Liberation Sans", sans-serif' font-size="8.3" font-weight="bold" font-style="normal" text-anchor="end" fill="#000" stroke="#000" stroke-width="0.18">15</text>
<line x1="694.90" y1="374.50" x2="694.90" y2="377.70" stroke="#111" stroke-width="1.3"/>
<line x1="736.15" y1="374.50" x2="736.15" y2="377.70" stroke="#111" stroke-width="1.3"/>
<line x1="777.60" y1="374.50" x2="777.60" y2="377.70" stroke="#111" stroke-width="1.3"/>
<text transform="translate(698.30,385.80) rotate(-45)" font-family='"Liberation Sans", sans-serif' font-size="9.0" font-weight="bold" text-anchor="end" stroke="#000" stroke-width="0.15">Control</text>
<text transform="translate(739.55,385.80) rotate(-45)" font-family='"Liberation Sans", sans-serif' font-size="9.0" font-weight="bold" text-anchor="end" stroke="#000" stroke-width="0.15">NC</text>
<text transform="translate(781.00,385.80) rotate(-45)" font-family='"Liberation Sans", sans-serif' font-size="9.0" font-weight="bold" text-anchor="end" stroke="#000" stroke-width="0.15">BUCPSH</text>
<text transform="translate(633.4,317.30) rotate(-90)" font-family='"Liberation Sans", sans-serif' font-size="9.6" font-weight="bold" text-anchor="middle">The proportion of</text>
<text transform="translate(644.8,317.30) rotate(-90)" font-family='"Liberation Sans", sans-serif' font-size="9.6" font-weight="bold" text-anchor="middle">F4/80+ CD11B+ CD206+ cells</text>
<path d="M694.4,276.6 L694.4,267.2 L736.8,267.2 L736.8,308.5" fill="none" stroke="#000" stroke-width="1.15"/>
<path d="M736.8,287.5 L778,287.5 L778,296.4" fill="none" stroke="#000" stroke-width="1.15"/>
<text x="716.2" y="267.5" font-family='"Liberation Sans", sans-serif' font-size="9" font-weight="bold" text-anchor="middle">***</text>
<text x="757.4" y="288" font-family='"Liberation Sans", sans-serif' font-size="9" font-weight="bold" text-anchor="middle">*</text>
</svg></body></html>
